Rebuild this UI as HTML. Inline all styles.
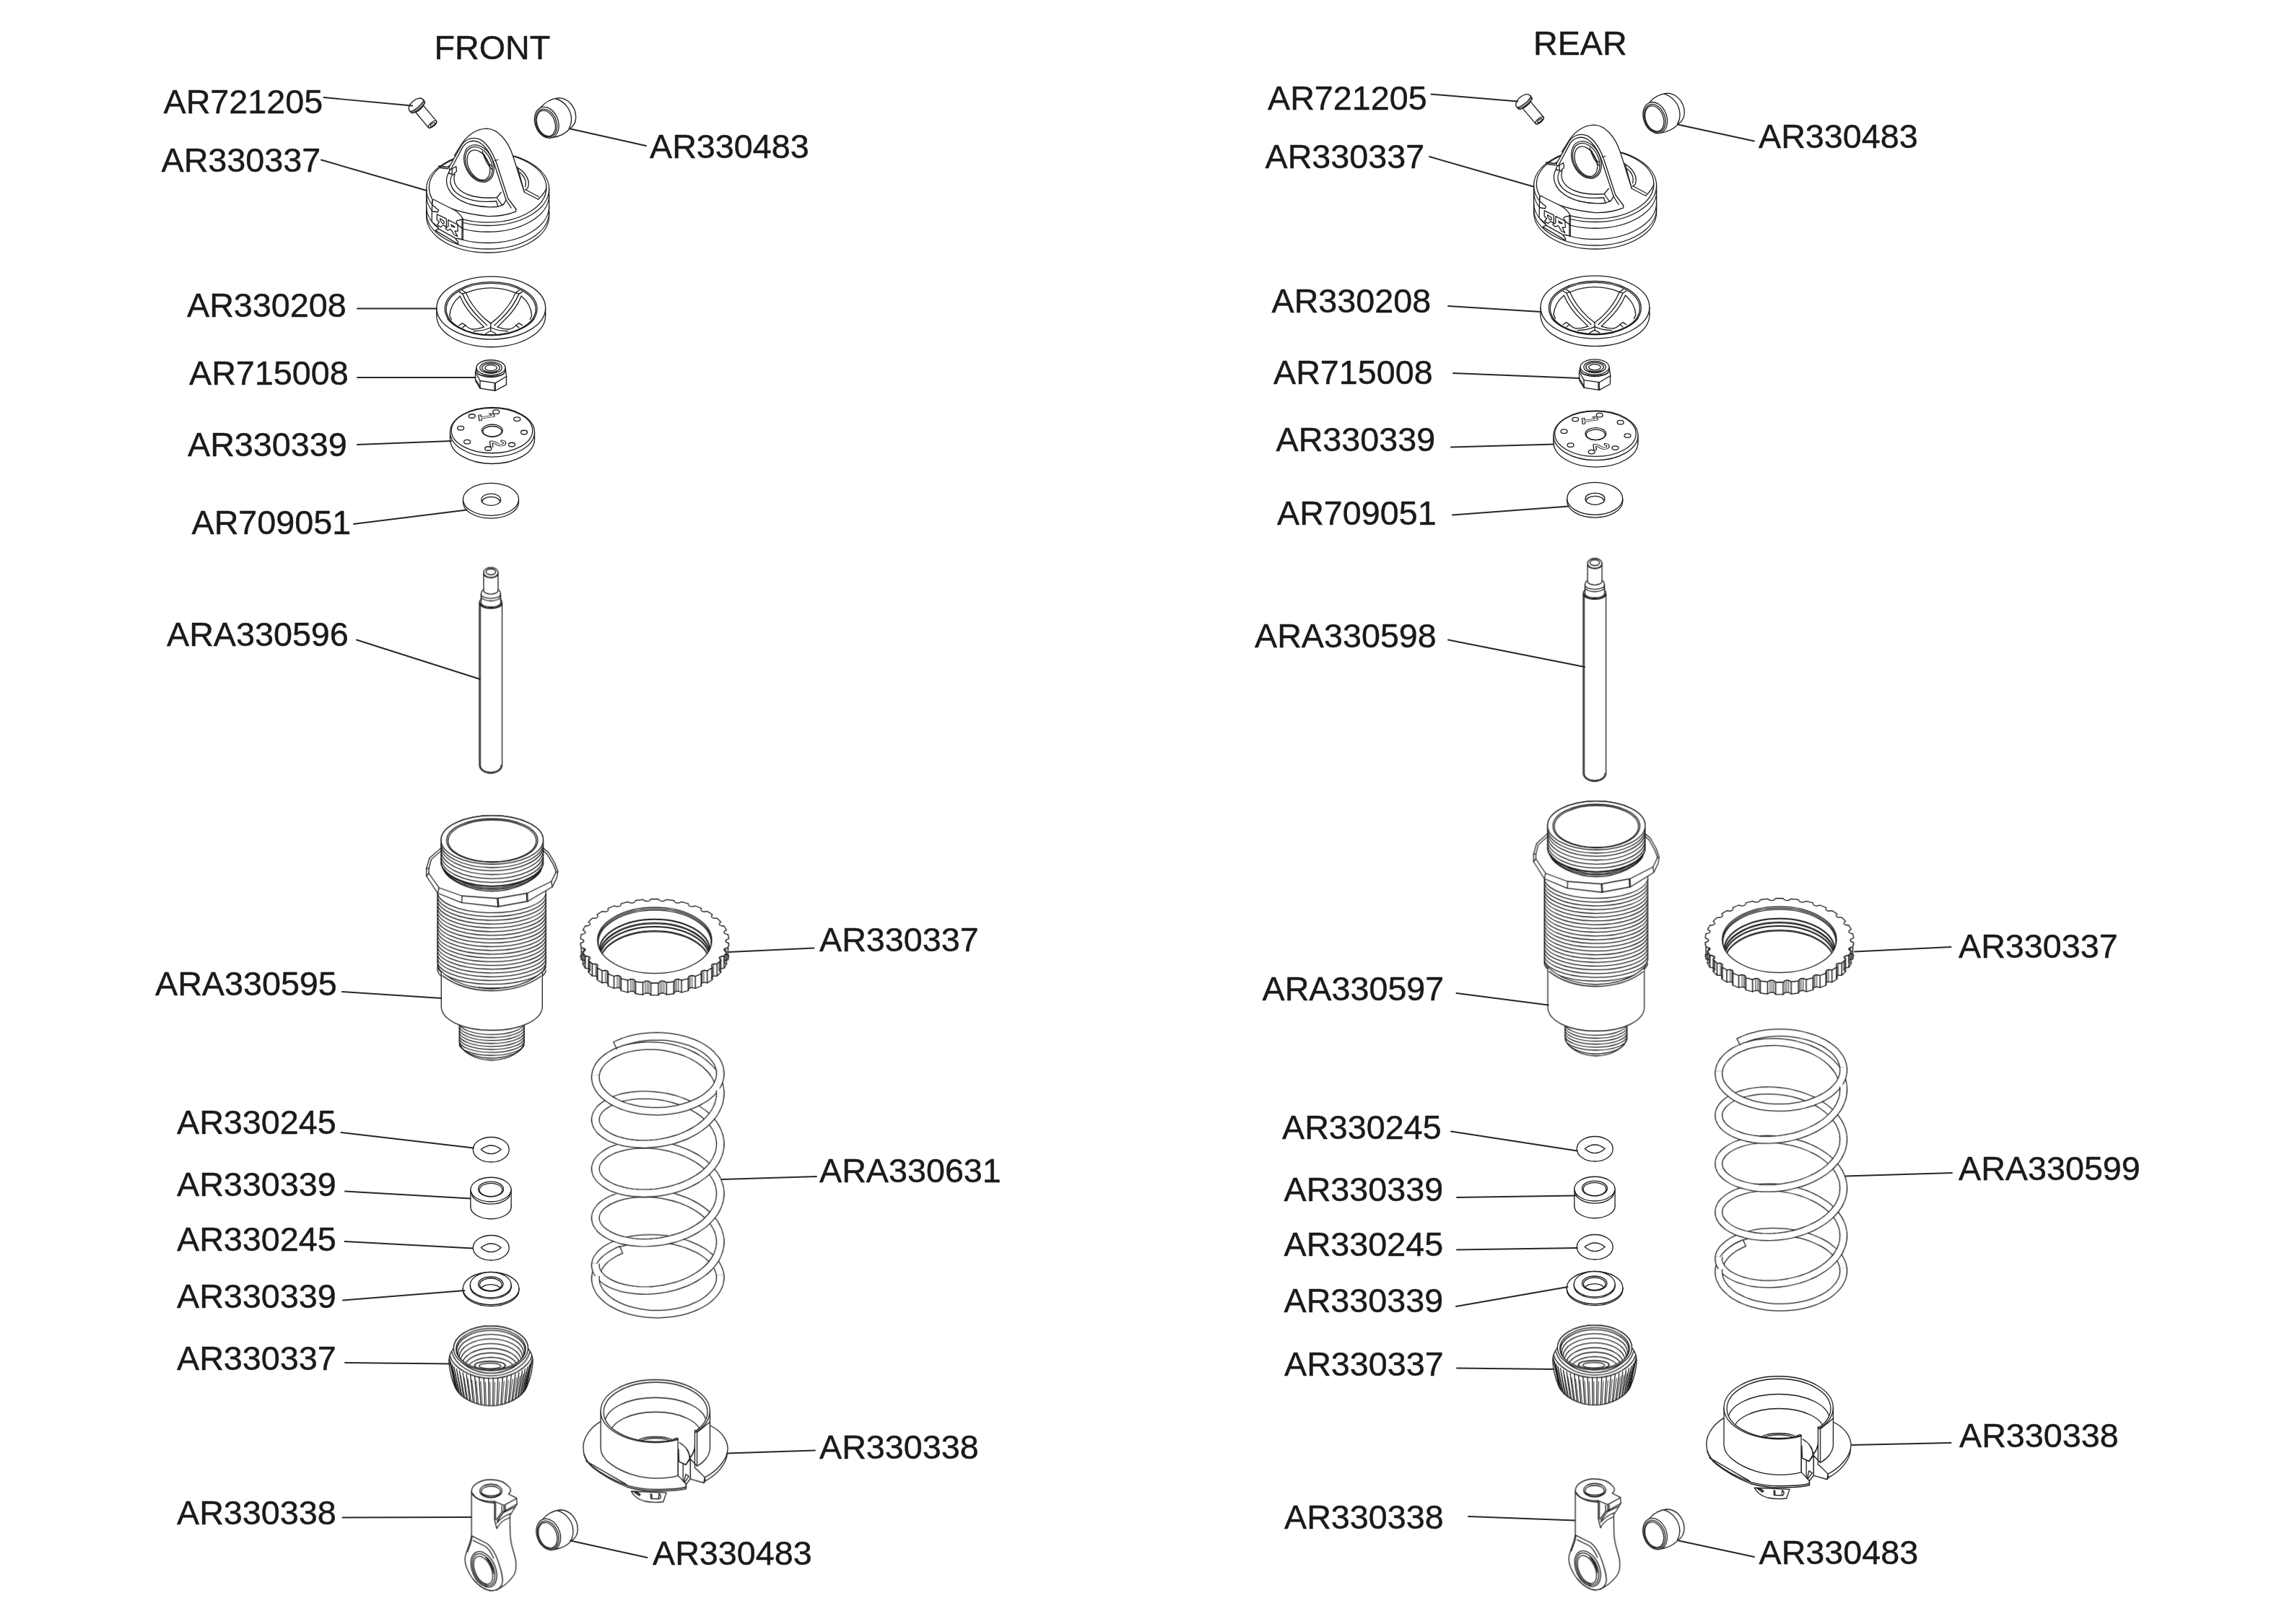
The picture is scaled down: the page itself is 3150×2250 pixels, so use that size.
<!DOCTYPE html>
<html><head><meta charset="utf-8"><title>Shock exploded view</title>
<style>
html,body{margin:0;padding:0;background:#fff;}
body{width:3150px;height:2250px;overflow:hidden;position:relative;}
svg{position:absolute;left:0;top:0;display:block;}
text{font-family:"Liberation Sans",sans-serif;font-size:46.7px;fill:#1a1a1a;stroke:#1a1a1a;stroke-width:0.45px;}
</style></head><body>
<svg xmlns="http://www.w3.org/2000/svg" width="3150" height="2250" viewBox="0 0 3150 2250" fill="none" stroke="#1c1c1c" stroke-width="1.3" stroke-linecap="round" stroke-linejoin="round">
<g id="parts" opacity="0.999">
<g transform="translate(540,180) scale(0.125)" stroke-width="10.4"><path fill="#fff" d="M405,656 L405,956 A680,404 0 0 0 1765,956 L1765,656 A680,404 0 0 0 405,656 Z"/>
<ellipse cx="1085" cy="640" rx="650" ry="385"/>
<path d="M405,656 A680,404 0 0 0 1765,656"/>
<path d="M405,726 A680,404 0 0 0 1765,726"/>
<path d="M405,848 A680,404 0 0 0 1765,848"/>
<path d="M405,916 A680,404 0 0 0 1765,916"/>
<path d="M480,775 C600,850 800,930 1085,957 C1200,960 1320,935 1395,905"/>
<path fill="#fff" d="M1415,410 L1490,690 L1645,770 C1700,720 1735,660 1733,640"/>
<path d="M1500,660 L1650,740"/>
<path d="M1425,425 C1500,470 1560,560 1530,640 L1505,665"/>
<path d="M1440,470 C1490,510 1520,570 1500,630"/>
<path fill="#fff" d="M655,415 L800,150 C860,60 960,-15 1075,-15 C1200,-10 1310,120 1365,290 L1490,690 L1400,880 L1395,905 L1340,870 L1085,900 L700,500 Z" stroke="none"/>
<path d="M715,285 L800,150 C860,60 960,-15 1075,-15 C1200,-10 1310,120 1365,290 L1490,690"/>
<path d="M655,415 L800,160 C850,100 920,75 1000,105 C1080,150 1150,260 1200,420 L1310,760 L1400,880 L1395,905"/>
<path d="M675,440 L810,185 C850,130 920,105 985,135 C1060,175 1125,280 1165,400 L1290,780 L1345,865"/>
<path d="M1165,340 L1200,330"/>
<g transform="translate(988,372) rotate(64)">
<ellipse cx="0" cy="0" rx="218" ry="152"/>
<ellipse cx="4" cy="4" rx="200" ry="136"/>
<ellipse cx="14" cy="12" rx="176" ry="112"/>
</g>
<path d="M1025,235 C1050,330 1090,400 1135,440"/>
<path d="M1045,270 C1065,325 1095,375 1125,400"/>
<path d="M655,470 C610,540 620,640 700,720 C800,820 1000,870 1200,850 L1260,825"/>
<path d="M690,500 C655,560 670,640 740,700 C830,775 1000,810 1180,790"/>
<path d="M720,490 C700,560 720,620 780,670 C860,735 1010,765 1185,750 L1235,690"/>
<path d="M1185,750 L1245,835 L1260,825 L1290,775"/>
<path d="M1200,850 L1180,790"/>
<path d="M540,400 L640,412 L660,395"/>
<path d="M560,420 L645,430"/>
<path d="M650,410 L665,440 L690,430 L735,405 L740,460 L715,480 L700,500"/>
<path d="M665,440 L650,480 L690,490 L690,430"/>
<path fill="#fff" d="M470,780 L490,772 L520,790 L720,890 C770,925 800,960 810,990 L810,1215 L745,1202 L730,1210 L755,1240 L757,1265 L505,1115 L540,1097 L537,1080 L465,1015 L467,900 Z"/>
<path d="M470,780 L470,830 L540,890 L530,912 L467,900"/>
<path d="M540,1097 L735,1205"/>
<path d="M810,990 L745,1005 L735,1020 L755,1055 L810,1095"/>
<path d="M800,985 L800,1212"/>
<path d="M522,935 L627,985 L627,1075 L607,1065 L607,1060 L590,1055 L565,1077 L525,1052 L547,1022 L522,996 Z"/>
<path d="M557,982 L600,1010 L600,1035 L585,1040 L557,1000 Z"/>
<path d="M647,997 L750,1050 L755,1120 L720,1122 L750,1180 L710,1160 L685,1115 L670,1100 L665,1105 L640,1112 L615,1090 L647,1070 Z"/>
<path d="M680,1050 L720,1075 L715,1080 L685,1070 Z"/>
</g>
<g transform="translate(540,110) scale(0.125)" stroke-width="10.4"><g transform="translate(296,288) rotate(50)">
<path fill="#fff" d="M0,-98 C-36,-98 -60,-60 -60,0 C-60,60 -36,98 0,98 L26,96 A26,96 0 0 0 26,-96 Z"/>
<path d="M0,-98 A26,98 0 0 1 0,98"/>
<path d="M26,-96 A26,96 0 0 1 26,96"/>
<path d="M12,-97 A26,97 0 0 1 12,97" stroke-width="6"/>
<path fill="#fff" d="M46,-57 L274,-57 A22,57 0 0 1 274,57 L46,57 A14,57 0 0 0 46,-57 Z"/>
<ellipse cx="274" cy="0" rx="22" ry="57"/>
<ellipse cx="278" cy="0" rx="12" ry="32"/>
</g>
</g>
<g transform="translate(540,110) scale(0.125)" stroke-width="10.4"><path fill="#fff" d="M1672,312 C1720,250 1790,215 1870,205 C1970,205 2062,300 2062,420 C2062,480 2035,520 1992,548 C1950,600 1880,632 1800,645 Z"/>
<path d="M1838,214 C1930,240 2010,330 2012,440 C2012,490 2000,520 1985,545"/>
<g transform="translate(1738,478) rotate(70)">
<ellipse fill="#fff" cx="0" cy="0" rx="178" ry="128"/>
<ellipse cx="4" cy="6" rx="160" ry="112"/>
<ellipse cx="6" cy="10" rx="146" ry="98"/>
</g>
</g>
<g transform="translate(540,360) scale(0.125)" stroke-width="10.4"><ellipse fill="#fff" cx="1122" cy="618" rx="603" ry="348"/><path fill="#fff" stroke="none" d="M519,533 L519,618 L1725,618 L1725,533 Z"/><path d="M519,533 L519,618 M1725,533 L1725,618"/><ellipse fill="#fff" cx="1122" cy="533" rx="603" ry="348"/>
<ellipse cx="1121" cy="542" rx="511" ry="297"/>
<ellipse cx="1121" cy="546" rx="496" ry="287"/>
<path d="M640,655 C700,740 880,828 1121,832 C1360,828 1540,740 1600,655"/>
<path d="M848,365 C1020,292 1216,292 1393,365"/>
<path d="M778,402 C708,460 668,535 663,620 L683,660"/>
<path d="M1458,402 C1528,460 1568,535 1573,620 L1553,660"/>
<path d="M778,402 C810,480 880,590 978,680 L1043,745"/>
<path d="M805,377 C840,460 905,560 998,650 L1078,727"/>
<path d="M843,365 C880,455 950,555 1038,640 L1118,705"/>
<path d="M1458,402 C1426,480 1356,590 1258,680 L1193,745"/>
<path d="M1431,377 C1396,460 1331,560 1238,650 L1158,727"/>
<path d="M1393,365 C1356,455 1286,555 1198,640 L1118,705"/>
<path d="M768,355 L805,377 L843,365 L803,338 M1468,355 L1431,377 L1393,365 L1433,338"/>
<path d="M1118,705 L1118,790"/>
<path d="M1043,745 C1000,762 960,768 913,770 M1193,745 C1236,762 1276,768 1323,770"/>
<path d="M1118,750 C1070,775 1000,790 928,790 M1118,750 C1166,775 1236,790 1308,790"/>
<path d="M1118,790 C1090,800 1075,810 1060,820 M1118,790 C1146,800 1161,810 1176,820"/>
<path d="M768,727 L803,702 L838,725 C860,748 885,765 913,770 M838,725 L805,752"/>
<path d="M1468,727 L1433,702 L1398,725 C1376,748 1351,765 1323,770 M1398,725 L1431,752"/>
</g>
<g transform="translate(540,360) scale(0.125)" stroke-width="10.4"><path fill="#fff" d="M948,1245 L948,1340 L1000,1425 L1170,1450 L1290,1385 L1293,1290 L1280,1200 L960,1200 Z"/>
<path d="M948,1245 L1000,1340 L1170,1365 L1293,1292"/>
<path d="M1000,1340 L1000,1425 M1170,1365 L1170,1450"/>
<path d="M958,1335 L1005,1418 M1160,1368 L1160,1446"/>
<path fill="#fff" d="M960,1195 L962,1240 C1000,1320 1240,1320 1278,1240 L1280,1195 Z"/>
<path d="M975,1262 C1020,1300 1220,1300 1265,1262"/>
<ellipse fill="#fff" cx="1120" cy="1195" rx="160" ry="85"/>
<ellipse cx="1120" cy="1195" rx="122" ry="64"/>
<ellipse cx="1120" cy="1196" rx="98" ry="50"/>
<ellipse cx="1120" cy="1197" rx="66" ry="33"/>
<path d="M1050,1240 C1090,1262 1150,1262 1190,1240"/>
</g>
<g transform="translate(540,540) scale(0.125)" stroke-width="10.4"><ellipse fill="#fff" cx="1136" cy="545" rx="468" ry="275"/><path fill="#fff" stroke="none" d="M668,470 L668,545 L1604,545 L1604,470 Z"/><path d="M668,470 L668,545 M1604,470 L1604,545"/><ellipse fill="#fff" cx="1136" cy="470" rx="468" ry="275"/>
<ellipse cx="1132" cy="452" rx="450" ry="250"/>
<ellipse cx="1135" cy="452" rx="115" ry="68"/>
<ellipse cx="1135" cy="462" rx="104" ry="58"/>
<g>
<ellipse cx="1178" cy="245" rx="36" ry="22"/><ellipse cx="910" cy="292" rx="36" ry="22"/>
<ellipse cx="1410" cy="325" rx="36" ry="22"/><ellipse cx="785" cy="425" rx="36" ry="22"/>
<ellipse cx="1488" cy="472" rx="36" ry="22"/><ellipse cx="857" cy="577" rx="36" ry="22"/>
<ellipse cx="1352" cy="608" rx="36" ry="22"/><ellipse cx="1090" cy="652" rx="36" ry="22"/>
</g>
<g font-family="Liberation Sans, sans-serif" font-size="250" text-anchor="middle" stroke-width="9" fill="none">
<text style="font-size:250px;font-weight:bold;fill:none;stroke:#1c1c1c;stroke-width:11px" transform="translate(1075,298) rotate(-8) scale(1,0.56) rotate(90)" x="0" y="88">1</text>
<text style="font-size:250px;font-weight:bold;fill:none;stroke:#1c1c1c;stroke-width:11px" transform="translate(1200,595) rotate(-5) scale(1,0.56) rotate(90)" x="0" y="88">2</text>
</g>
</g>
<g transform="translate(540,540) scale(0.125)" stroke-width="10.4"><ellipse fill="#fff" cx="1120" cy="1245" rx="308" ry="180"/><path fill="#fff" stroke="none" d="M812,1215 L812,1245 L1428,1245 L1428,1215 Z"/><path d="M812,1215 L812,1245 M1428,1215 L1428,1245"/><ellipse fill="#fff" cx="1120" cy="1215" rx="308" ry="180"/>
<ellipse cx="1122" cy="1218" rx="108" ry="65"/>
<path d="M1022,1243 A100,56 0 0 1 1222,1243"/>
</g>
<g transform="translate(540,770) scale(0.125)" stroke-width="10.4"><path fill="#fff" d="M992,525 C992,500 1005,485 1012,478 L1228,478 C1235,485 1245,500 1245,525 L1245,2320 A126.5,90 0 0 1 992,2320 Z"/>
<path d="M1003,540 L1003,2320 A115.5,82 0 0 0 1234,2320 "/>
<path d="M1000,528 A118,52 0 0 0 1240,528" stroke-width="18"/>
<path fill="#fff" d="M1012,425 L1012,520 A108,48 0 0 0 1228,520 L1228,425 C1225,395 1210,380 1200,375 L1040,375 C1030,380 1015,395 1012,425 Z"/>
<path d="M1012,425 A108,48 0 0 0 1228,425 M1012,452 A108,48 0 0 0 1228,452"/>
<path fill="#fff" d="M1040,185 L1040,385 A80,40 0 0 0 1200,385 L1200,185 Z"/>
<ellipse fill="#fff" cx="1120" cy="185" rx="80" ry="55"/>
<path d="M1040,200 A80,45 0 0 0 1200,200"/>
<ellipse cx="1120" cy="178" rx="54" ry="32"/>
</g>
<g transform="translate(540,1110) scale(0.125)" stroke-width="10.4"><path fill="#fff" stroke="none" d="M530,1000 L530,1800 C535,1850 560,1880 570,1890 L1690,1895 C1700,1880 1725,1850 1730,1800 L1730,1000 Z"/>
<path d="M530,1000 L530,1800 C535,1850 560,1880 570,1890 M1690,1895 C1700,1880 1725,1850 1730,1800 L1730,1000"/>
<path d="M530,988 A600,232 0 0 0 1730,1022"/>
<path d="M530,1031 A600,231 0 0 0 1730,1065"/>
<path d="M530,1073 A600,230 0 0 0 1730,1107"/>
<path d="M530,1116 A600,229 0 0 0 1730,1150"/>
<path d="M530,1159 A600,228 0 0 0 1730,1193"/>
<path d="M530,1202 A600,227 0 0 0 1730,1236"/>
<path d="M530,1244 A600,226 0 0 0 1730,1278"/>
<path d="M530,1287 A600,225 0 0 0 1730,1321"/>
<path d="M530,1330 A600,224 0 0 0 1730,1364"/>
<path d="M530,1372 A600,223 0 0 0 1730,1406"/>
<path d="M530,1415 A600,222 0 0 0 1730,1449"/>
<path d="M530,1458 A600,221 0 0 0 1730,1492"/>
<path d="M530,1500 A600,220 0 0 0 1730,1534"/>
<path d="M530,1543 A600,219 0 0 0 1730,1577"/>
<path d="M530,1586 A600,218 0 0 0 1730,1620"/>
<path d="M530,1628 A600,217 0 0 0 1730,1662"/>
<path d="M530,1671 A600,216 0 0 0 1730,1705"/>
<path d="M530,1714 A600,215 0 0 0 1730,1748"/>
<path d="M530,1757 A600,214 0 0 0 1730,1791"/>
<path d="M530,1799 A600,213 0 0 0 1730,1833"/>
<path d="M530,1842 A600,212 0 0 0 1730,1876"/>
<path fill="#fff" d="M770,2470 L770,2670 C790,2780 950,2872 1130,2872 C1310,2872 1470,2780 1490,2670 L1490,2470 Z"/>
<path d="M770,2454 A360,128 0 0 0 1490,2464"/>
<path d="M770,2487 A360,128 0 0 0 1490,2497"/>
<path d="M770,2520 A360,128 0 0 0 1490,2530"/>
<path d="M770,2553 A360,128 0 0 0 1490,2563"/>
<path d="M770,2586 A360,128 0 0 0 1490,2596"/>
<path d="M770,2619 A360,128 0 0 0 1490,2629"/>
<path d="M770,2652 A360,128 0 0 0 1490,2662"/>
<path d="M770,2685 A360,128 0 0 0 1490,2695"/>
<path d="M800,2740 C860,2810 1000,2850 1130,2850 C1260,2850 1400,2810 1460,2745"/>
<path fill="#fff" d="M570,1885 C700,2010 900,2075 1130,2080 C1360,2075 1560,2010 1690,1890 L1690,2280 C1685,2420 1460,2540 1130,2540 C800,2540 575,2420 570,2280 Z"/>
<path d="M585,1935 C720,2040 900,2098 1130,2102 C1360,2098 1540,2040 1675,1940"/>
<path fill="#fff" d="M560,525 L440,630 L405,745 L405,830 L530,1020 L795,1125 L1195,1170 L1530,1110 L1800,950 L1850,850 L1862,780 L1830,690 L1760,570 L1705,525 Z"/>
<path d="M575,545 L460,645 L432,745 L432,800 L545,960 L800,1050 L1190,1078 L1525,1020 L1790,890 L1840,790 L1838,770 L1810,700 L1745,590 L1700,550"/>
<path d="M545,960 L530,1020 M800,1050 L797,1125 M1190,1078 L1197,1170 M1525,1020 L1528,1110 M1790,890 L1800,950 M432,745 L405,745 M432,800 L405,830 M1840,790 L1862,780"/>
<path d="M1200,1080 L1207,1168 M1515,1022 L1518,1110"/>
<path d="M600,770 C640,860 860,995 1134,998 C1410,995 1630,860 1675,770"/>
<path d="M615,790 C680,880 880,975 1134,978 C1390,975 1590,880 1655,790"/>
<path fill="#fff" d="M568,430 L568,700 C600,800 800,960 1134,965 C1470,960 1670,800 1700,700 L1700,430 A566,270 0 0 0 568,430 Z"/>
<path d="M568,462 A566,270 0 0 0 1700,470"/>
<path d="M568,497 A566,270 0 0 0 1700,505"/>
<path d="M568,540 A566,270 0 0 0 1700,548"/>
<path d="M568,585 A566,270 0 0 0 1700,593"/>
<path d="M568,627 A566,270 0 0 0 1700,635"/>
<path d="M568,672 A566,270 0 0 0 1700,680"/>
<path d="M590,745 C660,850 860,940 1134,943 C1410,940 1610,850 1680,745" stroke-width="16"/>
<ellipse fill="#fff" cx="1134" cy="430" rx="566" ry="270"/>
<ellipse cx="1134" cy="436" rx="505" ry="242"/>
<ellipse cx="1134" cy="440" rx="488" ry="232"/>
</g>
<g transform="translate(770,1215) scale(0.125)" stroke-width="10.4"><path fill="#fff" d="M1881,845 L1882,849 L1884,853 L1889,857 L1895,861 L1903,865 L1917,869 L1916,873 L1916,877 L1915,881 L1915,886 L1914,890 L1913,894 L1913,898 L1912,902 L1911,906 L1910,910 L1909,914 L1908,918 L1893,920 L1883,924 L1876,927 L1870,930 L1866,934 L1864,937 L1863,941 L1864,945 L1867,950 L1871,954 L1878,959 L1890,965 L1888,969 L1886,973 L1884,977 L1882,981 L1880,985 L1878,989 L1875,993 L1873,996 L1871,1000 L1868,1004 L1866,1008 L1863,1012 L1847,1012 L1837,1014 L1829,1017 L1822,1019 L1817,1022 L1813,1026 L1811,1029 L1811,1034 L1812,1038 L1814,1043 L1819,1049 L1828,1056 L1825,1060 L1822,1063 L1818,1067 L1815,1070 L1811,1074 L1808,1078 L1804,1081 L1800,1084 L1797,1088 L1793,1091 L1789,1095 L1785,1098 L1769,1097 L1758,1098 L1749,1099 L1742,1101 L1736,1103 L1731,1106 L1728,1109 L1726,1113 L1725,1118 L1726,1123 L1728,1129 L1735,1138 L1730,1141 L1725,1144 L1721,1147 L1716,1150 L1711,1153 L1707,1156 L1702,1159 L1697,1162 L1692,1165 L1687,1168 L1682,1171 L1677,1174 L1662,1171 L1651,1170 L1642,1170 L1633,1171 L1627,1173 L1621,1175 L1616,1178 L1613,1182 L1611,1186 L1609,1191 L1609,1198 L1613,1206 L1607,1209 L1602,1211 L1596,1214 L1590,1216 L1585,1219 L1579,1221 L1573,1224 L1567,1226 L1561,1228 L1555,1231 L1549,1233 L1543,1235 L1529,1230 L1519,1228 L1510,1227 L1502,1227 L1494,1228 L1488,1230 L1482,1232 L1478,1235 L1474,1239 L1471,1244 L1468,1250 L1469,1259 L1462,1261 L1456,1263 L1449,1265 L1443,1266 L1436,1268 L1430,1270 L1423,1271 L1417,1273 L1410,1275 L1403,1276 L1397,1278 L1390,1279 L1378,1273 L1369,1270 L1360,1268 L1352,1267 L1345,1267 L1338,1267 L1332,1269 L1326,1272 L1320,1275 L1316,1280 L1311,1285 L1308,1294 L1301,1295 L1294,1296 L1287,1297 L1280,1298 L1273,1299 L1266,1300 L1259,1301 L1252,1301 L1245,1302 L1238,1303 L1231,1304 L1224,1304 L1215,1297 L1206,1293 L1199,1290 L1191,1288 L1184,1287 L1177,1287 L1170,1288 L1164,1289 L1157,1292 L1151,1296 L1144,1301 L1138,1309 L1131,1310 L1124,1310 L1117,1310 L1109,1310 L1102,1310 L1095,1310 L1088,1310 L1081,1310 L1073,1310 L1066,1310 L1059,1310 L1052,1309 L1046,1301 L1039,1296 L1033,1292 L1026,1289 L1020,1288 L1013,1287 L1006,1287 L999,1288 L991,1290 L984,1293 L975,1297 L966,1304 L959,1304 L952,1303 L945,1302 L938,1301 L931,1301 L924,1300 L917,1299 L910,1298 L903,1297 L896,1296 L889,1295 L882,1294 L879,1285 L874,1280 L870,1275 L864,1272 L858,1269 L852,1267 L845,1267 L838,1267 L830,1268 L821,1270 L812,1273 L800,1279 L793,1278 L787,1276 L780,1275 L773,1273 L767,1271 L760,1270 L754,1268 L747,1266 L741,1265 L734,1263 L728,1261 L721,1259 L722,1250 L719,1244 L716,1239 L712,1235 L708,1232 L702,1230 L696,1228 L688,1227 L680,1227 L671,1228 L661,1230 L647,1235 L641,1233 L635,1231 L629,1228 L623,1226 L617,1224 L611,1221 L605,1219 L600,1216 L594,1214 L588,1211 L583,1209 L577,1206 L581,1198 L581,1191 L579,1186 L577,1182 L574,1178 L569,1175 L563,1173 L557,1171 L548,1170 L539,1170 L528,1171 L513,1174 L508,1171 L503,1168 L498,1165 L493,1162 L488,1159 L483,1156 L479,1153 L474,1150 L469,1147 L465,1144 L460,1141 L455,1138 L462,1129 L464,1123 L465,1118 L464,1113 L462,1109 L459,1106 L454,1103 L448,1101 L441,1099 L432,1098 L421,1097 L405,1098 L401,1095 L397,1091 L393,1088 L390,1084 L386,1081 L382,1078 L379,1074 L375,1070 L372,1067 L368,1063 L365,1060 L362,1056 L371,1049 L376,1043 L378,1038 L379,1034 L379,1029 L377,1026 L373,1022 L368,1019 L361,1017 L353,1014 L343,1012 L327,1012 L324,1008 L322,1004 L319,1000 L317,996 L315,993 L312,989 L310,985 L308,981 L306,977 L304,973 L302,969 L300,965 L312,959 L319,954 L323,950 L326,945 L327,941 L326,937 L324,934 L320,930 L314,927 L307,924 L297,920 L282,918 L281,914 L280,910 L279,906 L278,902 L277,898 L277,894 L276,890 L275,886 L275,881 L274,877 L274,873 L273,869 L287,865 L295,861 L301,857 L306,853 L308,849 L309,845 L309,710 L308,714 L306,718 L301,722 L295,726 L287,730 L273,734 L274,738 L274,742 L275,746 L275,751 L276,755 L277,759 L277,763 L278,767 L279,771 L280,775 L281,779 L282,783 L297,785 L307,789 L314,792 L320,795 L324,799 L326,802 L327,806 L326,810 L323,815 L319,819 L312,824 L300,830 L302,834 L304,838 L306,842 L308,846 L310,850 L312,854 L315,858 L317,861 L319,865 L322,869 L324,873 L327,877 L343,877 L353,879 L361,882 L368,884 L373,887 L377,891 L379,894 L379,899 L378,903 L376,908 L371,914 L362,921 L365,925 L368,928 L372,932 L375,935 L379,939 L382,942 L386,946 L390,949 L393,953 L397,956 L401,960 L405,963 L421,962 L432,963 L441,964 L448,966 L454,968 L459,971 L462,974 L464,978 L465,983 L464,988 L462,994 L455,1003 L460,1006 L465,1009 L469,1012 L474,1015 L479,1018 L483,1021 L488,1024 L493,1027 L498,1030 L503,1033 L508,1036 L513,1039 L528,1036 L539,1035 L548,1035 L557,1036 L563,1038 L569,1040 L574,1043 L577,1047 L579,1051 L581,1056 L581,1063 L577,1071 L583,1074 L588,1076 L594,1079 L600,1081 L605,1084 L611,1086 L617,1089 L623,1091 L629,1093 L635,1096 L641,1098 L647,1100 L661,1095 L671,1093 L680,1092 L688,1092 L696,1093 L702,1095 L708,1097 L712,1100 L716,1104 L719,1109 L722,1115 L721,1124 L728,1126 L734,1128 L741,1130 L747,1131 L754,1133 L760,1135 L767,1136 L773,1138 L780,1140 L787,1141 L793,1143 L800,1144 L812,1138 L821,1135 L830,1133 L838,1132 L845,1132 L852,1132 L858,1134 L864,1137 L870,1140 L874,1145 L879,1150 L882,1159 L889,1160 L896,1161 L903,1162 L910,1163 L917,1164 L924,1165 L931,1166 L938,1166 L945,1167 L952,1168 L959,1169 L966,1169 L975,1162 L984,1158 L991,1155 L999,1153 L1006,1152 L1013,1152 L1020,1153 L1026,1154 L1033,1157 L1039,1161 L1046,1166 L1052,1174 L1059,1175 L1066,1175 L1073,1175 L1081,1175 L1088,1175 L1095,1175 L1102,1175 L1109,1175 L1117,1175 L1124,1175 L1131,1175 L1138,1174 L1144,1166 L1151,1161 L1157,1157 L1164,1154 L1170,1153 L1177,1152 L1184,1152 L1191,1153 L1199,1155 L1206,1158 L1215,1162 L1224,1169 L1231,1169 L1238,1168 L1245,1167 L1252,1166 L1259,1166 L1266,1165 L1273,1164 L1280,1163 L1287,1162 L1294,1161 L1301,1160 L1308,1159 L1311,1150 L1316,1145 L1320,1140 L1326,1137 L1332,1134 L1338,1132 L1345,1132 L1352,1132 L1360,1133 L1369,1135 L1378,1138 L1390,1144 L1397,1143 L1403,1141 L1410,1140 L1417,1138 L1423,1136 L1430,1135 L1436,1133 L1443,1131 L1449,1130 L1456,1128 L1462,1126 L1469,1124 L1468,1115 L1471,1109 L1474,1104 L1478,1100 L1482,1097 L1488,1095 L1494,1093 L1502,1092 L1510,1092 L1519,1093 L1529,1095 L1543,1100 L1549,1098 L1555,1096 L1561,1093 L1567,1091 L1573,1089 L1579,1086 L1585,1084 L1590,1081 L1596,1079 L1602,1076 L1607,1074 L1613,1071 L1609,1063 L1609,1056 L1611,1051 L1613,1047 L1616,1043 L1621,1040 L1627,1038 L1633,1036 L1642,1035 L1651,1035 L1662,1036 L1677,1039 L1682,1036 L1687,1033 L1692,1030 L1697,1027 L1702,1024 L1707,1021 L1711,1018 L1716,1015 L1721,1012 L1725,1009 L1730,1006 L1735,1003 L1728,994 L1726,988 L1725,983 L1726,978 L1728,974 L1731,971 L1736,968 L1742,966 L1749,964 L1758,963 L1769,962 L1785,963 L1789,960 L1793,956 L1797,953 L1800,949 L1804,946 L1808,942 L1811,939 L1815,935 L1818,932 L1822,928 L1825,925 L1828,921 L1819,914 L1814,908 L1812,903 L1811,899 L1811,894 L1813,891 L1817,887 L1822,884 L1829,882 L1837,879 L1847,877 L1863,877 L1866,873 L1868,869 L1871,865 L1873,861 L1875,858 L1878,854 L1880,850 L1882,846 L1884,842 L1886,838 L1888,834 L1890,830 L1878,824 L1871,819 L1867,815 L1864,810 L1863,806 L1864,802 L1866,799 L1870,795 L1876,792 L1883,789 L1893,785 L1908,783 L1909,779 L1910,775 L1911,771 L1912,767 L1913,763 L1913,759 L1914,755 L1915,751 L1915,746 L1916,742 L1916,738 L1917,734 L1903,730 L1895,726 L1889,722 L1884,718 L1882,714 L1881,710 Z"/>
<path d="M1908,782 L1908,917" stroke-width="12"/>
<path d="M1875,792 L1875,927" stroke-width="7"/>
<path d="M1864,802 L1864,937" stroke-width="7"/>
<path d="M1867,814 L1867,949" stroke-width="7"/>
<path d="M1890,831 L1890,966" stroke-width="12"/>
<path d="M1864,876 L1864,1011" stroke-width="12"/>
<path d="M1828,882 L1828,1017" stroke-width="7"/>
<path d="M1813,891 L1813,1026" stroke-width="7"/>
<path d="M1811,903 L1811,1038" stroke-width="7"/>
<path d="M1828,922 L1828,1057" stroke-width="12"/>
<path d="M1786,962 L1786,1097" stroke-width="12"/>
<path d="M1748,964 L1748,1099" stroke-width="7"/>
<path d="M1731,971 L1731,1106" stroke-width="7"/>
<path d="M1725,982 L1725,1117" stroke-width="7"/>
<path d="M1734,1003 L1734,1138" stroke-width="12"/>
<path d="M1678,1038 L1678,1173" stroke-width="12"/>
<path d="M1640,1035 L1640,1170" stroke-width="7"/>
<path d="M1621,1040 L1621,1175" stroke-width="7"/>
<path d="M1611,1051 L1611,1186" stroke-width="7"/>
<path d="M1612,1072 L1612,1207" stroke-width="12"/>
<path d="M1545,1099 L1545,1234" stroke-width="12"/>
<path d="M1509,1092 L1509,1227" stroke-width="7"/>
<path d="M1488,1095 L1488,1230" stroke-width="7"/>
<path d="M1474,1104 L1474,1239" stroke-width="7"/>
<path d="M1467,1125 L1467,1260" stroke-width="12"/>
<path d="M1392,1144 L1392,1279" stroke-width="12"/>
<path d="M1359,1133 L1359,1268" stroke-width="7"/>
<path d="M1338,1132 L1338,1267" stroke-width="7"/>
<path d="M1321,1140 L1321,1275" stroke-width="7"/>
<path d="M1306,1159 L1306,1294" stroke-width="12"/>
<path d="M1225,1169 L1225,1304" stroke-width="12"/>
<path d="M1198,1154 L1198,1289" stroke-width="7"/>
<path d="M1177,1152 L1177,1287" stroke-width="7"/>
<path d="M1158,1157 L1158,1292" stroke-width="7"/>
<path d="M1136,1174 L1136,1309" stroke-width="12"/>
<path d="M1054,1174 L1054,1309" stroke-width="12"/>
<path d="M1032,1157 L1032,1292" stroke-width="7"/>
<path d="M1013,1152 L1013,1287" stroke-width="7"/>
<path d="M992,1154 L992,1289" stroke-width="7"/>
<path d="M965,1169 L965,1304" stroke-width="12"/>
<path d="M884,1159 L884,1294" stroke-width="12"/>
<path d="M869,1140 L869,1275" stroke-width="7"/>
<path d="M852,1132 L852,1267" stroke-width="7"/>
<path d="M831,1133 L831,1268" stroke-width="7"/>
<path d="M798,1144 L798,1279" stroke-width="12"/>
<path d="M723,1125 L723,1260" stroke-width="12"/>
<path d="M716,1104 L716,1239" stroke-width="7"/>
<path d="M702,1095 L702,1230" stroke-width="7"/>
<path d="M681,1092 L681,1227" stroke-width="7"/>
<path d="M645,1099 L645,1234" stroke-width="12"/>
<path d="M578,1072 L578,1207" stroke-width="12"/>
<path d="M579,1051 L579,1186" stroke-width="7"/>
<path d="M569,1040 L569,1175" stroke-width="7"/>
<path d="M550,1035 L550,1170" stroke-width="7"/>
<path d="M512,1038 L512,1173" stroke-width="12"/>
<path d="M456,1003 L456,1138" stroke-width="12"/>
<path d="M465,982 L465,1117" stroke-width="7"/>
<path d="M459,971 L459,1106" stroke-width="7"/>
<path d="M442,964 L442,1099" stroke-width="7"/>
<path d="M404,962 L404,1097" stroke-width="12"/>
<path d="M362,922 L362,1057" stroke-width="12"/>
<path d="M379,903 L379,1038" stroke-width="7"/>
<path d="M377,891 L377,1026" stroke-width="7"/>
<path d="M362,882 L362,1017" stroke-width="7"/>
<path d="M326,876 L326,1011" stroke-width="12"/>
<path d="M300,831 L300,966" stroke-width="12"/>
<path d="M323,814 L323,949" stroke-width="7"/>
<path d="M326,802 L326,937" stroke-width="7"/>
<path d="M315,792 L315,927" stroke-width="7"/>
<path d="M282,782 L282,917" stroke-width="12"/>
<path fill="#fff" d="M1881,710 L1882,714 L1884,718 L1889,722 L1895,726 L1903,730 L1917,734 L1916,738 L1916,742 L1915,746 L1915,751 L1914,755 L1913,759 L1913,763 L1912,767 L1911,771 L1910,775 L1909,779 L1908,783 L1893,785 L1883,789 L1876,792 L1870,795 L1866,799 L1864,802 L1863,806 L1864,810 L1867,815 L1871,819 L1878,824 L1890,830 L1888,834 L1886,838 L1884,842 L1882,846 L1880,850 L1878,854 L1875,858 L1873,861 L1871,865 L1868,869 L1866,873 L1863,877 L1847,877 L1837,879 L1829,882 L1822,884 L1817,887 L1813,891 L1811,894 L1811,899 L1812,903 L1814,908 L1819,914 L1828,921 L1825,925 L1822,928 L1818,932 L1815,935 L1811,939 L1808,942 L1804,946 L1800,949 L1797,953 L1793,956 L1789,960 L1785,963 L1769,962 L1758,963 L1749,964 L1742,966 L1736,968 L1731,971 L1728,974 L1726,978 L1725,983 L1726,988 L1728,994 L1735,1003 L1730,1006 L1725,1009 L1721,1012 L1716,1015 L1711,1018 L1707,1021 L1702,1024 L1697,1027 L1692,1030 L1687,1033 L1682,1036 L1677,1039 L1662,1036 L1651,1035 L1642,1035 L1633,1036 L1627,1038 L1621,1040 L1616,1043 L1613,1047 L1611,1051 L1609,1056 L1609,1063 L1613,1071 L1607,1074 L1602,1076 L1596,1079 L1590,1081 L1585,1084 L1579,1086 L1573,1089 L1567,1091 L1561,1093 L1555,1096 L1549,1098 L1543,1100 L1529,1095 L1519,1093 L1510,1092 L1502,1092 L1494,1093 L1488,1095 L1482,1097 L1478,1100 L1474,1104 L1471,1109 L1468,1115 L1469,1124 L1462,1126 L1456,1128 L1449,1130 L1443,1131 L1436,1133 L1430,1135 L1423,1136 L1417,1138 L1410,1140 L1403,1141 L1397,1143 L1390,1144 L1378,1138 L1369,1135 L1360,1133 L1352,1132 L1345,1132 L1338,1132 L1332,1134 L1326,1137 L1320,1140 L1316,1145 L1311,1150 L1308,1159 L1301,1160 L1294,1161 L1287,1162 L1280,1163 L1273,1164 L1266,1165 L1259,1166 L1252,1166 L1245,1167 L1238,1168 L1231,1169 L1224,1169 L1215,1162 L1206,1158 L1199,1155 L1191,1153 L1184,1152 L1177,1152 L1170,1153 L1164,1154 L1157,1157 L1151,1161 L1144,1166 L1138,1174 L1131,1175 L1124,1175 L1117,1175 L1109,1175 L1102,1175 L1095,1175 L1088,1175 L1081,1175 L1073,1175 L1066,1175 L1059,1175 L1052,1174 L1046,1166 L1039,1161 L1033,1157 L1026,1154 L1020,1153 L1013,1152 L1006,1152 L999,1153 L991,1155 L984,1158 L975,1162 L966,1169 L959,1169 L952,1168 L945,1167 L938,1166 L931,1166 L924,1165 L917,1164 L910,1163 L903,1162 L896,1161 L889,1160 L882,1159 L879,1150 L874,1145 L870,1140 L864,1137 L858,1134 L852,1132 L845,1132 L838,1132 L830,1133 L821,1135 L812,1138 L800,1144 L793,1143 L787,1141 L780,1140 L773,1138 L767,1136 L760,1135 L754,1133 L747,1131 L741,1130 L734,1128 L728,1126 L721,1124 L722,1115 L719,1109 L716,1104 L712,1100 L708,1097 L702,1095 L696,1093 L688,1092 L680,1092 L671,1093 L661,1095 L647,1100 L641,1098 L635,1096 L629,1093 L623,1091 L617,1089 L611,1086 L605,1084 L600,1081 L594,1079 L588,1076 L583,1074 L577,1071 L581,1063 L581,1056 L579,1051 L577,1047 L574,1043 L569,1040 L563,1038 L557,1036 L548,1035 L539,1035 L528,1036 L513,1039 L508,1036 L503,1033 L498,1030 L493,1027 L488,1024 L483,1021 L479,1018 L474,1015 L469,1012 L465,1009 L460,1006 L455,1003 L462,994 L464,988 L465,983 L464,978 L462,974 L459,971 L454,968 L448,966 L441,964 L432,963 L421,962 L405,963 L401,960 L397,956 L393,953 L390,949 L386,946 L382,942 L379,939 L375,935 L372,932 L368,928 L365,925 L362,921 L371,914 L376,908 L378,903 L379,899 L379,894 L377,891 L373,887 L368,884 L361,882 L353,879 L343,877 L327,877 L324,873 L322,869 L319,865 L317,861 L315,858 L312,854 L310,850 L308,846 L306,842 L304,838 L302,834 L300,830 L312,824 L319,819 L323,815 L326,810 L327,806 L326,802 L324,799 L320,795 L314,792 L307,789 L297,785 L282,783 L281,779 L280,775 L279,771 L278,767 L277,763 L277,759 L276,755 L275,751 L275,746 L274,742 L274,738 L273,734 L287,730 L295,726 L301,722 L306,718 L308,714 L309,710 L308,706 L306,702 L301,698 L295,694 L287,690 L273,686 L274,682 L274,678 L275,674 L275,669 L276,665 L277,661 L277,657 L278,653 L279,649 L280,645 L281,641 L282,637 L297,635 L307,631 L314,628 L320,625 L324,621 L326,618 L327,614 L326,610 L323,605 L319,601 L312,596 L300,590 L302,586 L304,582 L306,578 L308,574 L310,570 L312,566 L315,562 L317,559 L319,555 L322,551 L324,547 L327,543 L343,543 L353,541 L361,538 L368,536 L373,533 L377,529 L379,526 L379,521 L378,517 L376,512 L371,506 L362,499 L365,495 L368,492 L372,488 L375,485 L379,481 L382,477 L386,474 L390,471 L393,467 L397,464 L401,460 L405,457 L421,458 L432,457 L441,456 L448,454 L454,452 L459,449 L462,446 L464,442 L465,437 L464,432 L462,426 L455,417 L460,414 L465,411 L469,408 L474,405 L479,402 L483,399 L488,396 L493,393 L498,390 L503,387 L508,384 L513,381 L528,384 L539,385 L548,385 L557,384 L563,382 L569,380 L574,377 L577,373 L579,369 L581,364 L581,357 L577,349 L583,346 L588,344 L594,341 L600,339 L605,336 L611,334 L617,331 L623,329 L629,327 L635,324 L641,322 L647,320 L661,325 L671,327 L680,328 L688,328 L696,327 L702,325 L708,323 L712,320 L716,316 L719,311 L722,305 L721,296 L728,294 L734,292 L741,290 L747,289 L754,287 L760,285 L767,284 L773,282 L780,280 L787,279 L793,277 L800,276 L812,282 L821,285 L830,287 L838,288 L845,288 L852,288 L858,286 L864,283 L870,280 L874,275 L879,270 L882,261 L889,260 L896,259 L903,258 L910,257 L917,256 L924,255 L931,254 L938,254 L945,253 L952,252 L959,251 L966,251 L975,258 L984,262 L991,265 L999,267 L1006,268 L1013,268 L1020,267 L1026,266 L1033,263 L1039,259 L1046,254 L1052,246 L1059,245 L1066,245 L1073,245 L1081,245 L1088,245 L1095,245 L1102,245 L1109,245 L1117,245 L1124,245 L1131,245 L1138,246 L1144,254 L1151,259 L1157,263 L1164,266 L1170,267 L1177,268 L1184,268 L1191,267 L1199,265 L1206,262 L1215,258 L1224,251 L1231,251 L1238,252 L1245,253 L1252,254 L1259,254 L1266,255 L1273,256 L1280,257 L1287,258 L1294,259 L1301,260 L1308,261 L1311,270 L1316,275 L1320,280 L1326,283 L1332,286 L1338,288 L1345,288 L1352,288 L1360,287 L1369,285 L1378,282 L1390,276 L1397,277 L1403,279 L1410,280 L1417,282 L1423,284 L1430,285 L1436,287 L1443,289 L1449,290 L1456,292 L1462,294 L1469,296 L1468,305 L1471,311 L1474,316 L1478,320 L1482,323 L1488,325 L1494,327 L1502,328 L1510,328 L1519,327 L1529,325 L1543,320 L1549,322 L1555,324 L1561,327 L1567,329 L1573,331 L1579,334 L1585,336 L1590,339 L1596,341 L1602,344 L1607,346 L1613,349 L1609,357 L1609,364 L1611,369 L1613,373 L1616,377 L1621,380 L1627,382 L1633,384 L1642,385 L1651,385 L1662,384 L1677,381 L1682,384 L1687,387 L1692,390 L1697,393 L1702,396 L1707,399 L1711,402 L1716,405 L1721,408 L1725,411 L1730,414 L1735,417 L1728,426 L1726,432 L1725,437 L1726,442 L1728,446 L1731,449 L1736,452 L1742,454 L1749,456 L1758,457 L1769,458 L1785,457 L1789,460 L1793,464 L1797,467 L1800,471 L1804,474 L1808,477 L1811,481 L1815,485 L1818,488 L1822,492 L1825,495 L1828,499 L1819,506 L1814,512 L1812,517 L1811,521 L1811,526 L1813,529 L1817,533 L1822,536 L1829,538 L1837,541 L1847,543 L1863,543 L1866,547 L1868,551 L1871,555 L1873,559 L1875,562 L1878,566 L1880,570 L1882,574 L1884,578 L1886,582 L1888,586 L1890,590 L1878,596 L1871,601 L1867,605 L1864,610 L1863,614 L1864,618 L1866,621 L1870,625 L1876,628 L1883,631 L1893,635 L1908,637 L1909,641 L1910,645 L1911,649 L1912,653 L1913,657 L1913,661 L1914,665 L1915,669 L1915,674 L1916,678 L1916,682 L1917,686 L1903,690 L1895,694 L1889,698 L1884,702 L1882,706 L1881,710 Z"/>
<clipPath id="ringhole10"><ellipse cx="1095" cy="702" rx="633" ry="366"/></clipPath>
<ellipse fill="#fff" cx="1095" cy="702" rx="633" ry="366"/>
<g clip-path="url(#ringhole10)">
<ellipse cx="1095" cy="716" rx="630" ry="364"/>
<ellipse cx="1095" cy="730" rx="626" ry="362"/>
<ellipse cx="1095" cy="818" rx="612" ry="350" stroke-width="16"/>
<ellipse cx="1095" cy="856" rx="608" ry="348"/>
<ellipse cx="1095" cy="866" rx="608" ry="348"/>
<ellipse cx="1095" cy="896" rx="606" ry="346" stroke-width="16"/>
<ellipse cx="1095" cy="940" rx="604" ry="344"/>
<ellipse cx="1095" cy="950" rx="604" ry="344"/>
</g>
</g>
<g transform="translate(700,1422) scale(0.25)" stroke-width="5.2"><path d="M608,106 L631,95 L656,85 L683,76 L711,69 L740,63 L769,59 L800,56 L830,55 L861,55 L892,57 L922,61 L951,66 L980,73 L1008,81 L1034,90 L1059,101 L1083,113 L1104,126 L1123,140 L1141,156 L1155,172 L1168,188 L1178,205 L1185,223 L1189,241 L1191,259 L1190,277" stroke-width="47" stroke-linecap="butt"/>
<path d="M608,106 L631,95 L656,85 L683,76 L711,69 L740,63 L769,59 L800,56 L830,55 L861,55 L892,57 L922,61 L951,66 L980,73 L1008,81 L1034,90 L1059,101 L1083,113 L1104,126 L1123,140 L1141,156 L1155,172 L1168,188 L1178,205 L1185,223 L1189,241 L1191,259 L1190,277" stroke="#fff" stroke-width="37" stroke-linecap="butt"/>
<path d="M500,296 L499,279 L501,262 L505,246 L513,229 L522,213 L535,197 L550,183 L567,170 L586,158 L608,146 L631,136 L656,127 L682,120 L710,115 L739,111 L769,108 L799,107 L830,108 L860,110 L891,115 L921,121 L951,129 L980,138 L1008,148 L1034,160 L1059,174 L1082,190 L1104,206 L1123,224 L1140,242 L1155,261 L1168,282 L1177,303 L1185,325 L1189,346 L1191,369 L1190,391" stroke-width="47" stroke-linecap="butt"/>
<path d="M500,296 L499,280 L501,263 L505,246 L512,230 L522,214 L534,199 L548,185 L565,172 L583,159 L604,148 L627,138 L651,129 L677,122 L704,116 L732,112 L761,109 L791,107 L821,108 L852,109 L882,113 L912,119 L941,126 L970,134 L998,144 L1024,156 L1049,169 L1073,183 L1095,199 L1115,216 L1133,233 L1149,252 L1162,272 L1173,292 L1181,313 L1187,335 L1190,357 L1191,378 L1189,400" stroke="#fff" stroke-width="37" stroke-linecap="butt"/>
<path d="M500,529 L499,515 L501,501 L505,487 L513,474 L522,461 L535,448 L550,437 L567,426 L586,416 L608,407 L631,399 L656,392 L682,387 L710,383 L739,381 L769,380 L799,381 L830,383 L860,387 L891,392 L921,399 L951,408 L980,418 L1008,429 L1034,442 L1059,456 L1082,472 L1104,488 L1123,506 L1140,525 L1155,544 L1168,564 L1177,585 L1185,606 L1189,627 L1191,649 L1190,670" stroke-width="47" stroke-linecap="butt"/>
<path d="M501,535 L499,521 L500,507 L503,493 L509,480 L518,466 L529,454 L543,442 L559,431 L577,420 L597,411 L620,402 L644,395 L670,390 L697,385 L725,382 L754,380 L784,380 L814,382 L845,385 L876,389 L906,396 L936,403 L965,412 L993,423 L1020,435 L1046,449 L1070,463 L1093,479 L1113,496 L1131,514 L1147,533 L1161,553 L1172,573 L1181,594 L1187,615 L1190,636 L1191,658 L1189,679" stroke="#fff" stroke-width="37" stroke-linecap="butt"/>
<path d="M500,801 L499,787 L501,774 L505,760 L513,747 L522,734 L535,722 L550,710 L567,699 L586,689 L608,680 L631,673 L656,666 L682,661 L710,657 L739,655 L769,654 L799,655 L830,657 L860,661 L891,667 L921,674 L951,682 L980,693 L1008,704 L1034,717 L1059,731 L1082,747 L1104,763 L1123,781 L1140,799 L1155,819 L1168,839 L1177,860 L1185,881 L1189,902 L1191,924 L1190,945" stroke-width="47" stroke-linecap="butt"/>
<path d="M501,807 L499,793 L500,780 L503,766 L509,753 L518,739 L529,727 L543,715 L559,704 L577,694 L597,684 L620,676 L644,669 L670,663 L697,659 L725,656 L754,655 L784,655 L814,656 L845,659 L876,664 L906,670 L936,678 L965,687 L993,698 L1020,710 L1046,724 L1070,738 L1093,754 L1113,771 L1131,789 L1147,808 L1161,828 L1172,848 L1181,869 L1187,890 L1190,911 L1191,933 L1189,954" stroke="#fff" stroke-width="37" stroke-linecap="butt"/>
<path d="M500,1074 L499,1060 L501,1046 L505,1032 L513,1019 L522,1006 L535,993 L550,982 L567,971 L586,961 L608,952 L631,944 L656,937 L682,932 L710,928 L739,926 L769,925 L799,925 L830,928 L860,931 L891,937 L921,944 L951,952 L980,962 L1008,973 L1034,986 L1059,1000 L1082,1015 L1104,1032 L1123,1049 L1140,1068 L1155,1087 L1168,1107 L1177,1128 L1185,1149 L1189,1170 L1191,1191 L1190,1213" stroke-width="47" stroke-linecap="butt"/>
<path d="M501,1080 L499,1066 L500,1052 L503,1038 L509,1025 L518,1011 L529,999 L543,987 L559,975 L577,965 L597,956 L620,947 L644,940 L670,934 L697,930 L725,927 L754,925 L784,925 L814,926 L845,929 L876,934 L906,940 L936,947 L965,957 L993,967 L1020,979 L1046,993 L1070,1007 L1093,1023 L1113,1040 L1131,1058 L1147,1076 L1161,1096 L1172,1116 L1181,1137 L1187,1158 L1190,1179 L1191,1200 L1189,1222" stroke="#fff" stroke-width="37" stroke-linecap="butt"/>
<path d="M500,1336 L499,1322 L501,1308 L505,1294 L513,1281 L522,1268 L535,1255 L550,1242 L567,1231 L586,1220 L608,1210 L631,1201 L656,1194 L682,1187 L710,1182 L739,1178 L769,1176 L799,1175 L830,1175 L860,1177 L891,1180 L921,1185 L951,1191 L980,1199 L1008,1208 L1034,1219 L1059,1230 L1082,1242 L1104,1256 L1123,1271 L1140,1286 L1155,1303 L1168,1319 L1177,1336 L1185,1354 L1189,1371 L1191,1389 L1190,1407" stroke-width="47" stroke-linecap="butt"/>
<path d="M500,1336 L499,1322 L501,1308 L505,1294 L513,1281 L522,1268 L535,1255 L550,1242 L567,1231 L586,1220 L608,1210 L631,1201 L656,1194 L682,1187 L710,1182 L739,1178 L769,1176 L799,1175 L830,1175 L860,1177 L891,1180 L921,1185 L951,1191 L980,1199 L1008,1208 L1034,1219 L1059,1230 L1082,1242 L1104,1256 L1123,1271 L1140,1286 L1155,1303 L1168,1319 L1177,1336 L1185,1354 L1189,1371 L1191,1389 L1190,1407" stroke="#fff" stroke-width="37" stroke-linecap="butt"/>
<path d="M500,1412 L499,1394 L501,1376 L506,1358 L514,1340 L525,1323 L538,1306 L554,1290 L573,1275 L594,1262 L617,1249 L642,1238" stroke-width="47" stroke-linecap="butt"/>
<path d="M500,1412 L499,1394 L501,1376 L506,1358 L514,1340 L525,1323 L538,1306 L554,1290 L573,1275 L594,1262 L617,1249 L642,1238" stroke="#fff" stroke-width="37" stroke-linecap="butt"/>
<path d="M1190,247 L1191,265 L1189,283 L1185,301 L1177,319 L1168,336 L1155,353 L1140,369 L1123,384 L1104,398 L1082,411 L1059,423 L1034,434 L1008,444 L980,452 L951,459 L921,464 L891,468 L860,470 L830,470 L799,469 L769,467 L739,463 L710,457 L682,450 L656,442 L631,432 L608,421 L586,409 L567,396 L550,382 L535,367 L522,351 L513,335 L505,318 L501,302 L499,285 L500,268" stroke-width="47" stroke-linecap="butt"/>
<path d="M1190,247 L1191,265 L1189,283 L1185,301 L1177,319 L1168,336 L1155,353 L1140,369 L1123,384 L1104,398 L1082,411 L1059,423 L1034,434 L1008,444 L980,452 L951,459 L921,464 L891,468 L860,470 L830,470 L799,469 L769,467 L739,463 L710,457 L682,450 L656,442 L631,432 L608,421 L586,409 L567,396 L550,382 L535,367 L522,351 L513,335 L505,318 L501,302 L499,285 L500,268" stroke="#fff" stroke-width="37" stroke-linecap="butt"/>
<path d="M1190,353 L1191,375 L1189,398 L1185,419 L1177,441 L1168,462 L1155,483 L1140,503 L1123,522 L1104,540 L1082,557 L1059,573 L1034,587 L1008,601 L980,613 L951,623 L921,632 L891,639 L860,645 L830,649 L799,651 L769,652 L739,652 L710,649 L682,646 L656,641 L631,634 L608,627 L586,618 L567,608 L550,597 L535,586 L522,573 L513,560 L505,547 L501,533 L499,519 L500,505" stroke-width="47" stroke-linecap="butt"/>
<path d="M1189,344 L1191,366 L1190,388 L1187,410 L1181,432 L1172,453 L1161,474 L1147,494 L1131,513 L1113,532 L1093,549 L1070,566 L1046,581 L1020,595 L993,607 L965,618 L936,628 L906,636 L876,642 L845,647 L814,650 L784,652 L754,652 L725,651 L697,648 L670,644 L644,638 L620,631 L597,623 L577,614 L559,603 L543,592 L529,580 L518,568 L509,554 L503,541 L500,527 L499,513 L501,499" stroke="#fff" stroke-width="37" stroke-linecap="butt"/>
<path d="M1190,634 L1191,655 L1189,677 L1185,698 L1177,719 L1168,740 L1155,760 L1140,780 L1123,798 L1104,816 L1082,832 L1059,848 L1034,862 L1008,875 L980,886 L951,897 L921,905 L891,912 L860,918 L830,922 L799,924 L769,925 L739,924 L710,922 L682,918 L656,913 L631,906 L608,899 L586,890 L567,880 L550,869 L535,857 L522,845 L513,832 L505,819 L501,805 L499,792 L500,778" stroke-width="47" stroke-linecap="butt"/>
<path d="M1189,625 L1191,646 L1190,668 L1187,689 L1181,710 L1172,731 L1161,751 L1147,771 L1131,790 L1113,808 L1093,825 L1070,841 L1046,855 L1020,869 L993,881 L965,892 L936,901 L906,909 L876,915 L845,920 L814,923 L784,924 L754,924 L725,923 L697,920 L670,916 L644,910 L620,903 L597,895 L577,885 L559,875 L543,864 L529,852 L518,840 L509,826 L503,813 L500,799 L499,786 L501,772" stroke="#fff" stroke-width="37" stroke-linecap="butt"/>
<path d="M1190,909 L1191,930 L1189,952 L1185,973 L1177,994 L1168,1015 L1155,1035 L1140,1054 L1123,1073 L1104,1091 L1082,1107 L1059,1123 L1034,1137 L1008,1150 L980,1161 L951,1171 L921,1180 L891,1187 L860,1192 L830,1196 L799,1198 L769,1199 L739,1198 L710,1196 L682,1192 L656,1187 L631,1180 L608,1172 L586,1163 L567,1153 L550,1142 L535,1131 L522,1118 L513,1105 L505,1092 L501,1078 L499,1064 L500,1050" stroke-width="47" stroke-linecap="butt"/>
<path d="M1189,900 L1191,921 L1190,943 L1187,964 L1181,985 L1172,1006 L1161,1026 L1147,1046 L1131,1065 L1113,1083 L1093,1100 L1070,1116 L1046,1130 L1020,1144 L993,1156 L965,1167 L936,1176 L906,1183 L876,1190 L845,1194 L814,1197 L784,1199 L754,1199 L725,1197 L697,1194 L670,1189 L644,1184 L620,1177 L597,1168 L577,1159 L559,1148 L543,1137 L529,1125 L518,1113 L509,1099 L503,1086 L500,1072 L499,1058 L501,1044" stroke="#fff" stroke-width="37" stroke-linecap="butt"/>
<path d="M1190,1176 L1191,1198 L1189,1219 L1185,1240 L1177,1261 L1168,1282 L1155,1302 L1140,1321 L1123,1340 L1104,1357 L1082,1373 L1059,1389 L1034,1403 L1008,1416 L980,1427 L951,1437 L921,1445 L891,1452 L860,1457 L830,1461 L799,1463 L769,1464 L739,1463 L710,1460 L682,1456 L656,1451 L631,1444 L608,1436 L586,1427 L567,1417 L550,1406 L535,1394 L522,1381 L513,1368 L505,1355 L501,1341 L499,1327 L500,1313" stroke-width="47" stroke-linecap="butt"/>
<path d="M1189,1167 L1191,1188 L1190,1209 L1187,1231 L1181,1251 L1173,1272 L1162,1292 L1149,1311 L1133,1330 L1115,1347 L1095,1364 L1073,1380 L1049,1394 L1024,1408 L998,1420 L970,1430 L941,1440 L912,1447 L882,1454 L852,1458 L821,1462 L791,1463 L761,1463 L732,1462 L704,1459 L677,1455 L651,1450 L627,1443 L604,1435 L583,1426 L565,1416 L548,1405 L534,1393 L522,1380 L512,1367 L505,1354 L501,1340 L499,1326 L500,1313" stroke="#fff" stroke-width="37" stroke-linecap="butt"/>
<path d="M1190,1377 L1191,1395 L1189,1413 L1185,1430 L1177,1448 L1168,1465 L1155,1481 L1140,1497 L1123,1512 L1104,1526 L1082,1539 L1059,1550 L1034,1561 L1008,1570 L980,1578 L951,1584 L921,1589 L891,1592 L860,1594 L830,1594 L799,1593 L769,1590 L739,1585 L710,1579 L682,1572 L656,1563 L631,1553 L608,1541 L586,1529 L567,1515 L550,1500 L535,1485 L522,1469 L513,1452 L505,1435 L501,1418 L499,1400 L500,1383" stroke-width="47" stroke-linecap="butt"/>
<path d="M1190,1377 L1191,1395 L1189,1413 L1185,1430 L1177,1448 L1168,1465 L1155,1481 L1140,1497 L1123,1512 L1104,1526 L1082,1539 L1059,1550 L1034,1561 L1008,1570 L980,1578 L951,1584 L921,1589 L891,1592 L860,1594 L830,1594 L799,1593 L769,1590 L739,1585 L710,1579 L682,1572 L656,1563 L631,1553 L608,1541 L586,1529 L567,1515 L550,1500 L535,1485 L522,1469 L513,1452 L505,1435 L501,1418 L499,1400 L500,1383" stroke="#fff" stroke-width="37" stroke-linecap="butt"/>
<path d="M617,125 L599,87" stroke-width="5"/>
<path d="M633,1218 L650,1257" stroke-width="5"/>
</g>
<g transform="translate(680.25,1592.75) scale(0.125)" stroke-width="10.4"><ellipse fill="#fff" cx="0" cy="0" rx="200" ry="138"/>
<path d="M-112,-2 Q0,-90 112,-2 Q0,96 -112,-2 Z"/>
</g>
<g transform="translate(680.25,1728.75) scale(0.125)" stroke-width="10.4"><ellipse fill="#fff" cx="0" cy="0" rx="200" ry="138"/>
<path d="M-112,-2 Q0,-90 112,-2 Q0,96 -112,-2 Z"/>
</g>
<g transform="translate(540,1555) scale(0.125)" stroke-width="10.4"><ellipse fill="#fff" cx="1120" cy="935" rx="225" ry="135"/><path fill="#fff" stroke="none" d="M895,745 L895,935 L1345,935 L1345,745 Z"/><path d="M895,745 L895,935 M1345,745 L1345,935"/><ellipse fill="#fff" cx="1120" cy="745" rx="225" ry="135"/>
<path d="M903,775 A217,130 0 0 0 1337,775"/>
<ellipse cx="1120" cy="740" rx="140" ry="83"/>
<ellipse cx="1120" cy="748" rx="126" ry="73"/>
</g>
<g transform="translate(540,1745) scale(0.125)" stroke-width="10.4"><path fill="#fff" d="M810,322 L810,335 A311,182 0 0 0 1432,335 L1432,322 A311,182 0 0 0 810,322 Z"/>
<path d="M810,322 A311,180 0 0 0 1432,322"/>
<path fill="#fff" d="M890,285 L892,315 A228,135 0 0 0 1345,315 L1346,285 A228,145 0 0 0 890,285 Z"/>
<path d="M890,285 A228,138 0 0 0 1346,285"/>
<ellipse cx="1118" cy="272" rx="138" ry="80"/>
<ellipse cx="1118" cy="278" rx="122" ry="70"/>
<path d="M1012,322 A108,56 0 0 1 1224,322"/>
</g>
<g transform="translate(540,1745) scale(0.125)" stroke-width="10.4"><path fill="#fff" d="M708,985 C680,1020 655,1080 655,1130 C660,1230 690,1340 725,1420 C770,1520 930,1620 1120,1622 C1310,1620 1470,1520 1515,1420 C1550,1340 1580,1230 1585,1130 C1585,1080 1560,1020 1532,985 Z"/>
<clipPath id="lnutbody16"><path d="M708,985 C680,1020 655,1080 655,1130 C660,1230 690,1340 725,1420 C770,1520 930,1620 1120,1622 C1310,1620 1470,1520 1515,1420 C1550,1340 1580,1230 1585,1130 C1585,1080 1560,1020 1532,985 Z"/></clipPath>
<g clip-path="url(#lnutbody16)">
<path d="M658,1086 L725,1408"/>
<path d="M663,1113 L729,1433"/>
<path d="M674,1140 L739,1458"/>
<path d="M690,1165 L753,1482"/>
<path d="M697,1219 L758,1479" stroke-width="7"/>
<path d="M712,1190 L771,1504"/>
<path d="M721,1243 L779,1502" stroke-width="7"/>
<path d="M740,1213 L795,1526"/>
<path d="M750,1266 L804,1523" stroke-width="7"/>
<path d="M772,1234 L822,1546"/>
<path d="M784,1286 L833,1542" stroke-width="7"/>
<path d="M809,1254 L854,1564"/>
<path d="M822,1305 L865,1560" stroke-width="7"/>
<path d="M849,1271 L889,1580"/>
<path d="M864,1321 L901,1575" stroke-width="7"/>
<path d="M894,1285 L926,1594"/>
<path d="M909,1335 L940,1588" stroke-width="7"/>
<path d="M941,1297 L967,1605"/>
<path d="M957,1346 L981,1598" stroke-width="7"/>
<path d="M990,1306 L1009,1613"/>
<path d="M1007,1354 L1024,1605" stroke-width="7"/>
<path d="M1042,1313 L1053,1619"/>
<path d="M1059,1359 L1068,1610" stroke-width="7"/>
<path d="M1094,1316 L1098,1622"/>
<path d="M1111,1361 L1113,1612" stroke-width="7"/>
<path d="M1146,1316 L1142,1622"/>
<path d="M1164,1360 L1158,1611" stroke-width="7"/>
<path d="M1198,1313 L1187,1619"/>
<path d="M1216,1356 L1202,1607" stroke-width="7"/>
<path d="M1250,1306 L1231,1613"/>
<path d="M1267,1349 L1245,1601" stroke-width="7"/>
<path d="M1299,1297 L1273,1605"/>
<path d="M1315,1339 L1287,1591" stroke-width="7"/>
<path d="M1346,1285 L1314,1594"/>
<path d="M1362,1326 L1327,1579" stroke-width="7"/>
<path d="M1391,1271 L1351,1580"/>
<path d="M1405,1310 L1363,1565" stroke-width="7"/>
<path d="M1431,1254 L1386,1564"/>
<path d="M1444,1293 L1397,1548" stroke-width="7"/>
<path d="M1468,1234 L1418,1546"/>
<path d="M1479,1272 L1427,1529" stroke-width="7"/>
<path d="M1500,1213 L1445,1526"/>
<path d="M1510,1251 L1454,1509" stroke-width="7"/>
<path d="M1528,1190 L1469,1504"/>
<path d="M1536,1227 L1475,1487" stroke-width="7"/>
<path d="M1550,1165 L1487,1482"/>
<path d="M1556,1202 L1493,1464" stroke-width="7"/>
<path d="M1566,1140 L1501,1458"/>
<path d="M1577,1113 L1511,1433"/>
<path d="M1582,1086 L1515,1408"/>
</g>
<path d="M665,1065 C700,1200 900,1318 1120,1318 C1340,1318 1540,1200 1575,1065"/>
<path d="M690,1030 C720,1160 900,1290 1120,1290 C1340,1290 1520,1160 1550,1030"/>
<path fill="#fff" d="M708,985 L712,1010 C760,1160 940,1262 1120,1262 C1300,1262 1480,1160 1528,1010 L1532,985 A412,248 0 0 0 708,985 Z"/>
<ellipse fill="#fff" cx="1120" cy="985" rx="412" ry="248"/>
<clipPath id="lnuthole16"><ellipse cx="1120" cy="992" rx="385" ry="228"/></clipPath>
<ellipse cx="1120" cy="992" rx="385" ry="228"/>
<g clip-path="url(#lnuthole16)">
<ellipse cx="1120" cy="1010" rx="378" ry="224"/>
<ellipse cx="1120" cy="1042" rx="365" ry="212"/>
<ellipse cx="1120" cy="1083" rx="350" ry="203"/>
<ellipse cx="1120" cy="1126" rx="335" ry="194"/>
<ellipse cx="1120" cy="1169" rx="318" ry="184"/>
<ellipse cx="1120" cy="1209" rx="300" ry="174"/>
<ellipse cx="1120" cy="1249" rx="282" ry="164"/>
<ellipse cx="1110" cy="1175" rx="170" ry="48" stroke-width="14"/>
<ellipse cx="1110" cy="1180" rx="120" ry="30"/>
</g>
</g>
<g transform="translate(770,1895) scale(0.125)" stroke-width="10.4"><path fill="#fff" d="M835,1368 C860,1420 900,1455 980,1478 C1060,1495 1130,1492 1190,1486 L1225,1385 Z"/>
<path d="M1050,1395 L1052,1450 L1140,1452 L1142,1395 M1062,1400 L1064,1445 M1150,1400 C1165,1420 1165,1440 1150,1455"/>
<path d="M865,1375 L925,1418 M880,1372 L935,1410 M900,1378 L935,1402"/>
<path fill="#fff" d="M497,595 C400,650 305,760 303,880 C303,960 330,1030 400,1090 C500,1170 650,1250 790,1305 C900,1335 1000,1348 1100,1348 C1250,1348 1380,1338 1440,1322 L1445,1290 L1420,1265 L1490,1232 L1640,1275 L1650,1215 C1780,1150 1900,1020 1905,900 C1905,790 1820,690 1708,640 Z"/>
<path d="M310,960 C330,1020 360,1065 410,1105 C510,1185 660,1268 790,1322 C900,1352 1000,1366 1100,1366 C1250,1366 1380,1356 1445,1340 L1445,1290"/>
<path d="M335,1035 L775,1288 M395,1068 L790,1300"/>
<path d="M1650,1215 L1655,1255 C1780,1190 1890,1070 1900,950"/>
<path d="M1640,1275 L1655,1255"/>
<path fill="#fff" d="M497,480 L497,900 C500,960 540,1020 620,1075 C740,1160 920,1222 1100,1225 C1200,1226 1290,1215 1355,1195 L1355,790 L1100,480 Z"/>
<path fill="#fff" d="M1540,690 L1540,1110 L1565,1130 L1650,1215 L1640,1275 L1490,1232 L1490,1010 L1565,1090 C1640,1050 1700,980 1708,900 L1708,480 Z"/>
<path d="M1565,715 L1565,1090 M1540,690 L1565,715 L1708,600"/>
<path fill="#fff" d="M1355,790 L1355,1195 L1420,1265 L1445,1290 L1490,1232 L1490,1010 L1440,1075 L1365,1040 Z"/>
<path d="M1410,1065 L1410,1250 M1420,1265 L1440,1180 L1475,1205 L1425,1270" />
<path d="M1370,830 C1440,870 1480,930 1485,1000 L1440,1075 L1365,1040"/>
<path d="M1485,1000 C1520,960 1540,900 1540,860"/>
<ellipse fill="#fff" cx="1102" cy="480" rx="605" ry="348"/>
<clipPath id="cuphole17"><ellipse cx="1105" cy="490" rx="575" ry="330"/></clipPath>
<ellipse cx="1105" cy="490" rx="575" ry="330"/>
<g clip-path="url(#cuphole17)">
<ellipse cx="1105" cy="610" rx="560" ry="280"/>
<ellipse cx="1105" cy="735" rx="500" ry="245"/>
<ellipse cx="1105" cy="812" rx="190" ry="48"/>
<ellipse cx="1105" cy="822" rx="170" ry="42"/>
</g>
<path fill="#fff" stroke="none" d="M1358,760 L1537,660 L1537,900 L1358,900 Z"/>
<path d="M1355,790 L1340,778 L1300,790 M1540,690 L1540,860"/>
<path d="M1370,830 C1440,870 1480,930 1485,1000"/>
<path d="M1485,1000 C1520,960 1540,900 1540,860"/>
</g>
<g transform="translate(580,2040) scale(0.125)" stroke-width="10.4"><path fill="#fff" d="M585,210 L585,700 C575,780 535,850 515,940 C505,1010 530,1080 600,1180 C670,1265 750,1310 815,1312 C900,1300 1000,1225 1060,1130 C1090,1060 1085,990 1060,910 C1035,830 1018,770 1015,700 L1010,480 L1060,400 L1090,350 L1085,285 L995,240 C1030,215 1020,180 1005,165 C960,110 880,80 800,80 C690,80 590,130 585,210 Z"/>
<path d="M585,210 C590,280 690,322 840,322"/>
<path d="M600,235 C625,290 710,335 835,338"/>
<path d="M840,322 L945,365 L1085,288 M945,365 L945,432 L1090,350 M920,372 L922,440 L945,432 M922,440 L865,520"/>
<path d="M960,372 L960,425"/>
<path d="M840,322 L840,520 L865,622 C885,580 930,530 1010,500"/>
<path d="M852,335 L852,525 M870,540 L940,445 L1062,385 M868,560 C900,520 950,480 1020,455"/>
<ellipse cx="800" cy="205" rx="122" ry="75"/>
<ellipse cx="800" cy="214" rx="106" ry="62"/>
<path d="M702,232 C730,268 870,268 900,232"/>
<path d="M590,705 L760,790 C830,850 860,920 885,1000 C915,1090 940,1170 925,1230 C915,1265 890,1290 860,1305"/>
<path d="M605,755 L740,820 C790,860 810,900 830,950"/>
<path d="M590,705 C595,760 560,820 540,880"/>
<g transform="translate(722,1075) rotate(66)">
<ellipse cx="0" cy="0" rx="208" ry="128"/>
<ellipse cx="2" cy="4" rx="188" ry="110"/>
<ellipse cx="6" cy="10" rx="165" ry="90"/>
</g>
<path d="M745,945 C790,1000 820,1060 830,1120"/>
<path d="M765,960 C800,1005 820,1050 828,1090"/>
</g>
<g transform="translate(542.5,2066.25) scale(0.125)" stroke-width="10.4"><path fill="#fff" d="M1672,312 C1720,250 1790,215 1870,205 C1970,205 2062,300 2062,420 C2062,480 2035,520 1992,548 C1950,600 1880,632 1800,645 Z"/>
<path d="M1838,214 C1930,240 2010,330 2012,440 C2012,490 2000,520 1985,545"/>
<g transform="translate(1738,478) rotate(70)">
<ellipse fill="#fff" cx="0" cy="0" rx="178" ry="128"/>
<ellipse cx="4" cy="6" rx="160" ry="112"/>
<ellipse cx="6" cy="10" rx="146" ry="98"/>
</g>
</g>
<g transform="translate(2074,175) scale(0.125)" stroke-width="10.4"><path fill="#fff" d="M405,656 L405,956 A680,404 0 0 0 1765,956 L1765,656 A680,404 0 0 0 405,656 Z"/>
<ellipse cx="1085" cy="640" rx="650" ry="385"/>
<path d="M405,656 A680,404 0 0 0 1765,656"/>
<path d="M405,726 A680,404 0 0 0 1765,726"/>
<path d="M405,848 A680,404 0 0 0 1765,848"/>
<path d="M405,916 A680,404 0 0 0 1765,916"/>
<path d="M480,775 C600,850 800,930 1085,957 C1200,960 1320,935 1395,905"/>
<path fill="#fff" d="M1415,410 L1490,690 L1645,770 C1700,720 1735,660 1733,640"/>
<path d="M1500,660 L1650,740"/>
<path d="M1425,425 C1500,470 1560,560 1530,640 L1505,665"/>
<path d="M1440,470 C1490,510 1520,570 1500,630"/>
<path fill="#fff" d="M655,415 L800,150 C860,60 960,-15 1075,-15 C1200,-10 1310,120 1365,290 L1490,690 L1400,880 L1395,905 L1340,870 L1085,900 L700,500 Z" stroke="none"/>
<path d="M715,285 L800,150 C860,60 960,-15 1075,-15 C1200,-10 1310,120 1365,290 L1490,690"/>
<path d="M655,415 L800,160 C850,100 920,75 1000,105 C1080,150 1150,260 1200,420 L1310,760 L1400,880 L1395,905"/>
<path d="M675,440 L810,185 C850,130 920,105 985,135 C1060,175 1125,280 1165,400 L1290,780 L1345,865"/>
<path d="M1165,340 L1200,330"/>
<g transform="translate(988,372) rotate(64)">
<ellipse cx="0" cy="0" rx="218" ry="152"/>
<ellipse cx="4" cy="4" rx="200" ry="136"/>
<ellipse cx="14" cy="12" rx="176" ry="112"/>
</g>
<path d="M1025,235 C1050,330 1090,400 1135,440"/>
<path d="M1045,270 C1065,325 1095,375 1125,400"/>
<path d="M655,470 C610,540 620,640 700,720 C800,820 1000,870 1200,850 L1260,825"/>
<path d="M690,500 C655,560 670,640 740,700 C830,775 1000,810 1180,790"/>
<path d="M720,490 C700,560 720,620 780,670 C860,735 1010,765 1185,750 L1235,690"/>
<path d="M1185,750 L1245,835 L1260,825 L1290,775"/>
<path d="M1200,850 L1180,790"/>
<path d="M540,400 L640,412 L660,395"/>
<path d="M560,420 L645,430"/>
<path d="M650,410 L665,440 L690,430 L735,405 L740,460 L715,480 L700,500"/>
<path d="M665,440 L650,480 L690,490 L690,430"/>
<path fill="#fff" d="M470,780 L490,772 L520,790 L720,890 C770,925 800,960 810,990 L810,1215 L745,1202 L730,1210 L755,1240 L757,1265 L505,1115 L540,1097 L537,1080 L465,1015 L467,900 Z"/>
<path d="M470,780 L470,830 L540,890 L530,912 L467,900"/>
<path d="M540,1097 L735,1205"/>
<path d="M810,990 L745,1005 L735,1020 L755,1055 L810,1095"/>
<path d="M800,985 L800,1212"/>
<path d="M522,935 L627,985 L627,1075 L607,1065 L607,1060 L590,1055 L565,1077 L525,1052 L547,1022 L522,996 Z"/>
<path d="M557,982 L600,1010 L600,1035 L585,1040 L557,1000 Z"/>
<path d="M647,997 L750,1050 L755,1120 L720,1122 L750,1180 L710,1160 L685,1115 L670,1100 L665,1105 L640,1112 L615,1090 L647,1070 Z"/>
<path d="M680,1050 L720,1075 L715,1080 L685,1070 Z"/>
</g>
<g transform="translate(2073.6,104.6) scale(0.125)" stroke-width="10.4"><g transform="translate(296,288) rotate(50)">
<path fill="#fff" d="M0,-98 C-36,-98 -60,-60 -60,0 C-60,60 -36,98 0,98 L26,96 A26,96 0 0 0 26,-96 Z"/>
<path d="M0,-98 A26,98 0 0 1 0,98"/>
<path d="M26,-96 A26,96 0 0 1 26,96"/>
<path d="M12,-97 A26,97 0 0 1 12,97" stroke-width="6"/>
<path fill="#fff" d="M46,-57 L274,-57 A22,57 0 0 1 274,57 L46,57 A14,57 0 0 0 46,-57 Z"/>
<ellipse cx="274" cy="0" rx="22" ry="57"/>
<ellipse cx="278" cy="0" rx="12" ry="32"/>
</g>
</g>
<g transform="translate(2075.5,103.4) scale(0.125)" stroke-width="10.4"><path fill="#fff" d="M1672,312 C1720,250 1790,215 1870,205 C1970,205 2062,300 2062,420 C2062,480 2035,520 1992,548 C1950,600 1880,632 1800,645 Z"/>
<path d="M1838,214 C1930,240 2010,330 2012,440 C2012,490 2000,520 1985,545"/>
<g transform="translate(1738,478) rotate(70)">
<ellipse fill="#fff" cx="0" cy="0" rx="178" ry="128"/>
<ellipse cx="4" cy="6" rx="160" ry="112"/>
<ellipse cx="6" cy="10" rx="146" ry="98"/>
</g>
</g>
<g transform="translate(2069.25,358.9) scale(0.125)" stroke-width="10.4"><ellipse fill="#fff" cx="1122" cy="618" rx="603" ry="348"/><path fill="#fff" stroke="none" d="M519,533 L519,618 L1725,618 L1725,533 Z"/><path d="M519,533 L519,618 M1725,533 L1725,618"/><ellipse fill="#fff" cx="1122" cy="533" rx="603" ry="348"/>
<ellipse cx="1121" cy="542" rx="511" ry="297"/>
<ellipse cx="1121" cy="546" rx="496" ry="287"/>
<path d="M640,655 C700,740 880,828 1121,832 C1360,828 1540,740 1600,655"/>
<path d="M848,365 C1020,292 1216,292 1393,365"/>
<path d="M778,402 C708,460 668,535 663,620 L683,660"/>
<path d="M1458,402 C1528,460 1568,535 1573,620 L1553,660"/>
<path d="M778,402 C810,480 880,590 978,680 L1043,745"/>
<path d="M805,377 C840,460 905,560 998,650 L1078,727"/>
<path d="M843,365 C880,455 950,555 1038,640 L1118,705"/>
<path d="M1458,402 C1426,480 1356,590 1258,680 L1193,745"/>
<path d="M1431,377 C1396,460 1331,560 1238,650 L1158,727"/>
<path d="M1393,365 C1356,455 1286,555 1198,640 L1118,705"/>
<path d="M768,355 L805,377 L843,365 L803,338 M1468,355 L1431,377 L1393,365 L1433,338"/>
<path d="M1118,705 L1118,790"/>
<path d="M1043,745 C1000,762 960,768 913,770 M1193,745 C1236,762 1276,768 1323,770"/>
<path d="M1118,750 C1070,775 1000,790 928,790 M1118,750 C1166,775 1236,790 1308,790"/>
<path d="M1118,790 C1090,800 1075,810 1060,820 M1118,790 C1146,800 1161,810 1176,820"/>
<path d="M768,727 L803,702 L838,725 C860,748 885,765 913,770 M838,725 L805,752"/>
<path d="M1468,727 L1433,702 L1398,725 C1376,748 1351,765 1323,770 M1398,725 L1431,752"/>
</g>
<g transform="translate(2069.1,359.1) scale(0.125)" stroke-width="10.4"><path fill="#fff" d="M948,1245 L948,1340 L1000,1425 L1170,1450 L1290,1385 L1293,1290 L1280,1200 L960,1200 Z"/>
<path d="M948,1245 L1000,1340 L1170,1365 L1293,1292"/>
<path d="M1000,1340 L1000,1425 M1170,1365 L1170,1450"/>
<path d="M958,1335 L1005,1418 M1160,1368 L1160,1446"/>
<path fill="#fff" d="M960,1195 L962,1240 C1000,1320 1240,1320 1278,1240 L1280,1195 Z"/>
<path d="M975,1262 C1020,1300 1220,1300 1265,1262"/>
<ellipse fill="#fff" cx="1120" cy="1195" rx="160" ry="85"/>
<ellipse cx="1120" cy="1195" rx="122" ry="64"/>
<ellipse cx="1120" cy="1196" rx="98" ry="50"/>
<ellipse cx="1120" cy="1197" rx="66" ry="33"/>
<path d="M1050,1240 C1090,1262 1150,1262 1190,1240"/>
</g>
<g transform="translate(2068.5,544.6) scale(0.125)" stroke-width="10.4"><ellipse fill="#fff" cx="1136" cy="545" rx="468" ry="275"/><path fill="#fff" stroke="none" d="M668,470 L668,545 L1604,545 L1604,470 Z"/><path d="M668,470 L668,545 M1604,470 L1604,545"/><ellipse fill="#fff" cx="1136" cy="470" rx="468" ry="275"/>
<ellipse cx="1132" cy="452" rx="450" ry="250"/>
<ellipse cx="1135" cy="452" rx="115" ry="68"/>
<ellipse cx="1135" cy="462" rx="104" ry="58"/>
<g>
<ellipse cx="1178" cy="245" rx="36" ry="22"/><ellipse cx="910" cy="292" rx="36" ry="22"/>
<ellipse cx="1410" cy="325" rx="36" ry="22"/><ellipse cx="785" cy="425" rx="36" ry="22"/>
<ellipse cx="1488" cy="472" rx="36" ry="22"/><ellipse cx="857" cy="577" rx="36" ry="22"/>
<ellipse cx="1352" cy="608" rx="36" ry="22"/><ellipse cx="1090" cy="652" rx="36" ry="22"/>
</g>
<g font-family="Liberation Sans, sans-serif" font-size="250" text-anchor="middle" stroke-width="9" fill="none">
<text style="font-size:250px;font-weight:bold;fill:none;stroke:#1c1c1c;stroke-width:11px" transform="translate(1075,298) rotate(-8) scale(1,0.56) rotate(90)" x="0" y="88">1</text>
<text style="font-size:250px;font-weight:bold;fill:none;stroke:#1c1c1c;stroke-width:11px" transform="translate(1200,595) rotate(-5) scale(1,0.56) rotate(90)" x="0" y="88">2</text>
</g>
</g>
<g transform="translate(2069.25,538.9) scale(0.125)" stroke-width="10.4"><ellipse fill="#fff" cx="1120" cy="1245" rx="308" ry="180"/><path fill="#fff" stroke="none" d="M812,1215 L812,1245 L1428,1245 L1428,1215 Z"/><path d="M812,1215 L812,1245 M1428,1215 L1428,1245"/><ellipse fill="#fff" cx="1120" cy="1215" rx="308" ry="180"/>
<ellipse cx="1122" cy="1218" rx="108" ry="65"/>
<path d="M1022,1243 A100,56 0 0 1 1222,1243"/>
</g>
<g transform="translate(2069.1,757.25) scale(0.125)" stroke-width="10.4"><path fill="#fff" d="M992,525 C992,500 1005,485 1012,478 L1228,478 C1235,485 1245,500 1245,525 L1245,2512 A126.5,90 0 0 1 992,2512 Z"/>
<path d="M1003,540 L1003,2512 A115.5,82 0 0 0 1234,2512 "/>
<path d="M1000,528 A118,52 0 0 0 1240,528" stroke-width="18"/>
<path fill="#fff" d="M1012,425 L1012,520 A108,48 0 0 0 1228,520 L1228,425 C1225,395 1210,380 1200,375 L1040,375 C1030,380 1015,395 1012,425 Z"/>
<path d="M1012,425 A108,48 0 0 0 1228,425 M1012,452 A108,48 0 0 0 1228,452"/>
<path fill="#fff" d="M1040,185 L1040,385 A80,40 0 0 0 1200,385 L1200,185 Z"/>
<ellipse fill="#fff" cx="1120" cy="185" rx="80" ry="55"/>
<path d="M1040,200 A80,45 0 0 0 1200,200"/>
<ellipse cx="1120" cy="178" rx="54" ry="32"/>
</g>
<g transform="translate(2069.6,1090) scale(0.125) translate(1134,0) scale(0.955,1) translate(-1134,0)" stroke-width="10.4"><path fill="#fff" stroke="none" d="M530,1000 L530,1912 C535,1962 560,1992 570,2002 L1690,2007 C1700,1992 1725,1962 1730,1912 L1730,1000 Z"/>
<path d="M530,1000 L530,1912 C535,1962 560,1992 570,2002 M1690,2007 C1700,1992 1725,1962 1730,1912 L1730,1000"/>
<path d="M530,988 A600,232 0 0 0 1730,1022"/>
<path d="M530,1031 A600,231 0 0 0 1730,1065"/>
<path d="M530,1073 A600,230 0 0 0 1730,1107"/>
<path d="M530,1116 A600,229 0 0 0 1730,1150"/>
<path d="M530,1159 A600,228 0 0 0 1730,1193"/>
<path d="M530,1202 A600,227 0 0 0 1730,1236"/>
<path d="M530,1244 A600,226 0 0 0 1730,1278"/>
<path d="M530,1287 A600,225 0 0 0 1730,1321"/>
<path d="M530,1330 A600,224 0 0 0 1730,1364"/>
<path d="M530,1372 A600,223 0 0 0 1730,1406"/>
<path d="M530,1415 A600,222 0 0 0 1730,1449"/>
<path d="M530,1458 A600,221 0 0 0 1730,1492"/>
<path d="M530,1500 A600,220 0 0 0 1730,1534"/>
<path d="M530,1543 A600,219 0 0 0 1730,1577"/>
<path d="M530,1586 A600,218 0 0 0 1730,1620"/>
<path d="M530,1628 A600,217 0 0 0 1730,1662"/>
<path d="M530,1671 A600,216 0 0 0 1730,1705"/>
<path d="M530,1714 A600,215 0 0 0 1730,1748"/>
<path d="M530,1757 A600,214 0 0 0 1730,1791"/>
<path d="M530,1799 A600,213 0 0 0 1730,1833"/>
<path d="M530,1842 A600,212 0 0 0 1730,1876"/>
<path d="M530,1885 A600,211 0 0 0 1730,1919"/>
<path d="M530,1927 A600,210 0 0 0 1730,1961"/>
<path fill="#fff" d="M770,2638 L770,2782 C790,2892 950,2984 1130,2984 C1310,2984 1470,2892 1490,2782 L1490,2638 Z"/>
<path d="M770,2622 A360,128 0 0 0 1490,2632"/>
<path d="M770,2655 A360,128 0 0 0 1490,2665"/>
<path d="M770,2688 A360,128 0 0 0 1490,2698"/>
<path d="M770,2721 A360,128 0 0 0 1490,2731"/>
<path d="M770,2754 A360,128 0 0 0 1490,2764"/>
<path d="M770,2787 A360,128 0 0 0 1490,2797"/>
<path d="M800,2852 C860,2922 1000,2962 1130,2962 C1260,2962 1400,2922 1460,2857"/>
<path fill="#fff" d="M570,1997 C700,2122 900,2187 1130,2192 C1360,2187 1560,2122 1690,2002 L1690,2448 C1685,2588 1460,2708 1130,2708 C800,2708 575,2588 570,2448 Z"/>
<path d="M585,2047 C720,2152 900,2210 1130,2214 C1360,2210 1540,2152 1675,2052"/>
<path fill="#fff" d="M560,525 L440,630 L405,745 L405,830 L530,1020 L795,1125 L1195,1170 L1530,1110 L1800,950 L1850,850 L1862,780 L1830,690 L1760,570 L1705,525 Z"/>
<path d="M575,545 L460,645 L432,745 L432,800 L545,960 L800,1050 L1190,1078 L1525,1020 L1790,890 L1840,790 L1838,770 L1810,700 L1745,590 L1700,550"/>
<path d="M545,960 L530,1020 M800,1050 L797,1125 M1190,1078 L1197,1170 M1525,1020 L1528,1110 M1790,890 L1800,950 M432,745 L405,745 M432,800 L405,830 M1840,790 L1862,780"/>
<path d="M1200,1080 L1207,1168 M1515,1022 L1518,1110"/>
<path d="M600,770 C640,860 860,995 1134,998 C1410,995 1630,860 1675,770"/>
<path d="M615,790 C680,880 880,975 1134,978 C1390,975 1590,880 1655,790"/>
<path fill="#fff" d="M568,430 L568,700 C600,800 800,960 1134,965 C1470,960 1670,800 1700,700 L1700,430 A566,270 0 0 0 568,430 Z"/>
<path d="M568,462 A566,270 0 0 0 1700,470"/>
<path d="M568,497 A566,270 0 0 0 1700,505"/>
<path d="M568,540 A566,270 0 0 0 1700,548"/>
<path d="M568,585 A566,270 0 0 0 1700,593"/>
<path d="M568,627 A566,270 0 0 0 1700,635"/>
<path d="M568,672 A566,270 0 0 0 1700,680"/>
<path d="M590,745 C660,850 860,940 1134,943 C1410,940 1610,850 1680,745" stroke-width="16"/>
<ellipse fill="#fff" cx="1134" cy="430" rx="566" ry="270"/>
<ellipse cx="1134" cy="436" rx="505" ry="242"/>
<ellipse cx="1134" cy="440" rx="488" ry="232"/>
</g>
<g transform="translate(2328,1214) scale(0.125)" stroke-width="10.4"><path fill="#fff" d="M1881,845 L1882,849 L1884,853 L1889,857 L1895,861 L1903,865 L1917,869 L1916,873 L1916,877 L1915,881 L1915,886 L1914,890 L1913,894 L1913,898 L1912,902 L1911,906 L1910,910 L1909,914 L1908,918 L1893,920 L1883,924 L1876,927 L1870,930 L1866,934 L1864,937 L1863,941 L1864,945 L1867,950 L1871,954 L1878,959 L1890,965 L1888,969 L1886,973 L1884,977 L1882,981 L1880,985 L1878,989 L1875,993 L1873,996 L1871,1000 L1868,1004 L1866,1008 L1863,1012 L1847,1012 L1837,1014 L1829,1017 L1822,1019 L1817,1022 L1813,1026 L1811,1029 L1811,1034 L1812,1038 L1814,1043 L1819,1049 L1828,1056 L1825,1060 L1822,1063 L1818,1067 L1815,1070 L1811,1074 L1808,1078 L1804,1081 L1800,1084 L1797,1088 L1793,1091 L1789,1095 L1785,1098 L1769,1097 L1758,1098 L1749,1099 L1742,1101 L1736,1103 L1731,1106 L1728,1109 L1726,1113 L1725,1118 L1726,1123 L1728,1129 L1735,1138 L1730,1141 L1725,1144 L1721,1147 L1716,1150 L1711,1153 L1707,1156 L1702,1159 L1697,1162 L1692,1165 L1687,1168 L1682,1171 L1677,1174 L1662,1171 L1651,1170 L1642,1170 L1633,1171 L1627,1173 L1621,1175 L1616,1178 L1613,1182 L1611,1186 L1609,1191 L1609,1198 L1613,1206 L1607,1209 L1602,1211 L1596,1214 L1590,1216 L1585,1219 L1579,1221 L1573,1224 L1567,1226 L1561,1228 L1555,1231 L1549,1233 L1543,1235 L1529,1230 L1519,1228 L1510,1227 L1502,1227 L1494,1228 L1488,1230 L1482,1232 L1478,1235 L1474,1239 L1471,1244 L1468,1250 L1469,1259 L1462,1261 L1456,1263 L1449,1265 L1443,1266 L1436,1268 L1430,1270 L1423,1271 L1417,1273 L1410,1275 L1403,1276 L1397,1278 L1390,1279 L1378,1273 L1369,1270 L1360,1268 L1352,1267 L1345,1267 L1338,1267 L1332,1269 L1326,1272 L1320,1275 L1316,1280 L1311,1285 L1308,1294 L1301,1295 L1294,1296 L1287,1297 L1280,1298 L1273,1299 L1266,1300 L1259,1301 L1252,1301 L1245,1302 L1238,1303 L1231,1304 L1224,1304 L1215,1297 L1206,1293 L1199,1290 L1191,1288 L1184,1287 L1177,1287 L1170,1288 L1164,1289 L1157,1292 L1151,1296 L1144,1301 L1138,1309 L1131,1310 L1124,1310 L1117,1310 L1109,1310 L1102,1310 L1095,1310 L1088,1310 L1081,1310 L1073,1310 L1066,1310 L1059,1310 L1052,1309 L1046,1301 L1039,1296 L1033,1292 L1026,1289 L1020,1288 L1013,1287 L1006,1287 L999,1288 L991,1290 L984,1293 L975,1297 L966,1304 L959,1304 L952,1303 L945,1302 L938,1301 L931,1301 L924,1300 L917,1299 L910,1298 L903,1297 L896,1296 L889,1295 L882,1294 L879,1285 L874,1280 L870,1275 L864,1272 L858,1269 L852,1267 L845,1267 L838,1267 L830,1268 L821,1270 L812,1273 L800,1279 L793,1278 L787,1276 L780,1275 L773,1273 L767,1271 L760,1270 L754,1268 L747,1266 L741,1265 L734,1263 L728,1261 L721,1259 L722,1250 L719,1244 L716,1239 L712,1235 L708,1232 L702,1230 L696,1228 L688,1227 L680,1227 L671,1228 L661,1230 L647,1235 L641,1233 L635,1231 L629,1228 L623,1226 L617,1224 L611,1221 L605,1219 L600,1216 L594,1214 L588,1211 L583,1209 L577,1206 L581,1198 L581,1191 L579,1186 L577,1182 L574,1178 L569,1175 L563,1173 L557,1171 L548,1170 L539,1170 L528,1171 L513,1174 L508,1171 L503,1168 L498,1165 L493,1162 L488,1159 L483,1156 L479,1153 L474,1150 L469,1147 L465,1144 L460,1141 L455,1138 L462,1129 L464,1123 L465,1118 L464,1113 L462,1109 L459,1106 L454,1103 L448,1101 L441,1099 L432,1098 L421,1097 L405,1098 L401,1095 L397,1091 L393,1088 L390,1084 L386,1081 L382,1078 L379,1074 L375,1070 L372,1067 L368,1063 L365,1060 L362,1056 L371,1049 L376,1043 L378,1038 L379,1034 L379,1029 L377,1026 L373,1022 L368,1019 L361,1017 L353,1014 L343,1012 L327,1012 L324,1008 L322,1004 L319,1000 L317,996 L315,993 L312,989 L310,985 L308,981 L306,977 L304,973 L302,969 L300,965 L312,959 L319,954 L323,950 L326,945 L327,941 L326,937 L324,934 L320,930 L314,927 L307,924 L297,920 L282,918 L281,914 L280,910 L279,906 L278,902 L277,898 L277,894 L276,890 L275,886 L275,881 L274,877 L274,873 L273,869 L287,865 L295,861 L301,857 L306,853 L308,849 L309,845 L309,710 L308,714 L306,718 L301,722 L295,726 L287,730 L273,734 L274,738 L274,742 L275,746 L275,751 L276,755 L277,759 L277,763 L278,767 L279,771 L280,775 L281,779 L282,783 L297,785 L307,789 L314,792 L320,795 L324,799 L326,802 L327,806 L326,810 L323,815 L319,819 L312,824 L300,830 L302,834 L304,838 L306,842 L308,846 L310,850 L312,854 L315,858 L317,861 L319,865 L322,869 L324,873 L327,877 L343,877 L353,879 L361,882 L368,884 L373,887 L377,891 L379,894 L379,899 L378,903 L376,908 L371,914 L362,921 L365,925 L368,928 L372,932 L375,935 L379,939 L382,942 L386,946 L390,949 L393,953 L397,956 L401,960 L405,963 L421,962 L432,963 L441,964 L448,966 L454,968 L459,971 L462,974 L464,978 L465,983 L464,988 L462,994 L455,1003 L460,1006 L465,1009 L469,1012 L474,1015 L479,1018 L483,1021 L488,1024 L493,1027 L498,1030 L503,1033 L508,1036 L513,1039 L528,1036 L539,1035 L548,1035 L557,1036 L563,1038 L569,1040 L574,1043 L577,1047 L579,1051 L581,1056 L581,1063 L577,1071 L583,1074 L588,1076 L594,1079 L600,1081 L605,1084 L611,1086 L617,1089 L623,1091 L629,1093 L635,1096 L641,1098 L647,1100 L661,1095 L671,1093 L680,1092 L688,1092 L696,1093 L702,1095 L708,1097 L712,1100 L716,1104 L719,1109 L722,1115 L721,1124 L728,1126 L734,1128 L741,1130 L747,1131 L754,1133 L760,1135 L767,1136 L773,1138 L780,1140 L787,1141 L793,1143 L800,1144 L812,1138 L821,1135 L830,1133 L838,1132 L845,1132 L852,1132 L858,1134 L864,1137 L870,1140 L874,1145 L879,1150 L882,1159 L889,1160 L896,1161 L903,1162 L910,1163 L917,1164 L924,1165 L931,1166 L938,1166 L945,1167 L952,1168 L959,1169 L966,1169 L975,1162 L984,1158 L991,1155 L999,1153 L1006,1152 L1013,1152 L1020,1153 L1026,1154 L1033,1157 L1039,1161 L1046,1166 L1052,1174 L1059,1175 L1066,1175 L1073,1175 L1081,1175 L1088,1175 L1095,1175 L1102,1175 L1109,1175 L1117,1175 L1124,1175 L1131,1175 L1138,1174 L1144,1166 L1151,1161 L1157,1157 L1164,1154 L1170,1153 L1177,1152 L1184,1152 L1191,1153 L1199,1155 L1206,1158 L1215,1162 L1224,1169 L1231,1169 L1238,1168 L1245,1167 L1252,1166 L1259,1166 L1266,1165 L1273,1164 L1280,1163 L1287,1162 L1294,1161 L1301,1160 L1308,1159 L1311,1150 L1316,1145 L1320,1140 L1326,1137 L1332,1134 L1338,1132 L1345,1132 L1352,1132 L1360,1133 L1369,1135 L1378,1138 L1390,1144 L1397,1143 L1403,1141 L1410,1140 L1417,1138 L1423,1136 L1430,1135 L1436,1133 L1443,1131 L1449,1130 L1456,1128 L1462,1126 L1469,1124 L1468,1115 L1471,1109 L1474,1104 L1478,1100 L1482,1097 L1488,1095 L1494,1093 L1502,1092 L1510,1092 L1519,1093 L1529,1095 L1543,1100 L1549,1098 L1555,1096 L1561,1093 L1567,1091 L1573,1089 L1579,1086 L1585,1084 L1590,1081 L1596,1079 L1602,1076 L1607,1074 L1613,1071 L1609,1063 L1609,1056 L1611,1051 L1613,1047 L1616,1043 L1621,1040 L1627,1038 L1633,1036 L1642,1035 L1651,1035 L1662,1036 L1677,1039 L1682,1036 L1687,1033 L1692,1030 L1697,1027 L1702,1024 L1707,1021 L1711,1018 L1716,1015 L1721,1012 L1725,1009 L1730,1006 L1735,1003 L1728,994 L1726,988 L1725,983 L1726,978 L1728,974 L1731,971 L1736,968 L1742,966 L1749,964 L1758,963 L1769,962 L1785,963 L1789,960 L1793,956 L1797,953 L1800,949 L1804,946 L1808,942 L1811,939 L1815,935 L1818,932 L1822,928 L1825,925 L1828,921 L1819,914 L1814,908 L1812,903 L1811,899 L1811,894 L1813,891 L1817,887 L1822,884 L1829,882 L1837,879 L1847,877 L1863,877 L1866,873 L1868,869 L1871,865 L1873,861 L1875,858 L1878,854 L1880,850 L1882,846 L1884,842 L1886,838 L1888,834 L1890,830 L1878,824 L1871,819 L1867,815 L1864,810 L1863,806 L1864,802 L1866,799 L1870,795 L1876,792 L1883,789 L1893,785 L1908,783 L1909,779 L1910,775 L1911,771 L1912,767 L1913,763 L1913,759 L1914,755 L1915,751 L1915,746 L1916,742 L1916,738 L1917,734 L1903,730 L1895,726 L1889,722 L1884,718 L1882,714 L1881,710 Z"/>
<path d="M1908,782 L1908,917" stroke-width="12"/>
<path d="M1875,792 L1875,927" stroke-width="7"/>
<path d="M1864,802 L1864,937" stroke-width="7"/>
<path d="M1867,814 L1867,949" stroke-width="7"/>
<path d="M1890,831 L1890,966" stroke-width="12"/>
<path d="M1864,876 L1864,1011" stroke-width="12"/>
<path d="M1828,882 L1828,1017" stroke-width="7"/>
<path d="M1813,891 L1813,1026" stroke-width="7"/>
<path d="M1811,903 L1811,1038" stroke-width="7"/>
<path d="M1828,922 L1828,1057" stroke-width="12"/>
<path d="M1786,962 L1786,1097" stroke-width="12"/>
<path d="M1748,964 L1748,1099" stroke-width="7"/>
<path d="M1731,971 L1731,1106" stroke-width="7"/>
<path d="M1725,982 L1725,1117" stroke-width="7"/>
<path d="M1734,1003 L1734,1138" stroke-width="12"/>
<path d="M1678,1038 L1678,1173" stroke-width="12"/>
<path d="M1640,1035 L1640,1170" stroke-width="7"/>
<path d="M1621,1040 L1621,1175" stroke-width="7"/>
<path d="M1611,1051 L1611,1186" stroke-width="7"/>
<path d="M1612,1072 L1612,1207" stroke-width="12"/>
<path d="M1545,1099 L1545,1234" stroke-width="12"/>
<path d="M1509,1092 L1509,1227" stroke-width="7"/>
<path d="M1488,1095 L1488,1230" stroke-width="7"/>
<path d="M1474,1104 L1474,1239" stroke-width="7"/>
<path d="M1467,1125 L1467,1260" stroke-width="12"/>
<path d="M1392,1144 L1392,1279" stroke-width="12"/>
<path d="M1359,1133 L1359,1268" stroke-width="7"/>
<path d="M1338,1132 L1338,1267" stroke-width="7"/>
<path d="M1321,1140 L1321,1275" stroke-width="7"/>
<path d="M1306,1159 L1306,1294" stroke-width="12"/>
<path d="M1225,1169 L1225,1304" stroke-width="12"/>
<path d="M1198,1154 L1198,1289" stroke-width="7"/>
<path d="M1177,1152 L1177,1287" stroke-width="7"/>
<path d="M1158,1157 L1158,1292" stroke-width="7"/>
<path d="M1136,1174 L1136,1309" stroke-width="12"/>
<path d="M1054,1174 L1054,1309" stroke-width="12"/>
<path d="M1032,1157 L1032,1292" stroke-width="7"/>
<path d="M1013,1152 L1013,1287" stroke-width="7"/>
<path d="M992,1154 L992,1289" stroke-width="7"/>
<path d="M965,1169 L965,1304" stroke-width="12"/>
<path d="M884,1159 L884,1294" stroke-width="12"/>
<path d="M869,1140 L869,1275" stroke-width="7"/>
<path d="M852,1132 L852,1267" stroke-width="7"/>
<path d="M831,1133 L831,1268" stroke-width="7"/>
<path d="M798,1144 L798,1279" stroke-width="12"/>
<path d="M723,1125 L723,1260" stroke-width="12"/>
<path d="M716,1104 L716,1239" stroke-width="7"/>
<path d="M702,1095 L702,1230" stroke-width="7"/>
<path d="M681,1092 L681,1227" stroke-width="7"/>
<path d="M645,1099 L645,1234" stroke-width="12"/>
<path d="M578,1072 L578,1207" stroke-width="12"/>
<path d="M579,1051 L579,1186" stroke-width="7"/>
<path d="M569,1040 L569,1175" stroke-width="7"/>
<path d="M550,1035 L550,1170" stroke-width="7"/>
<path d="M512,1038 L512,1173" stroke-width="12"/>
<path d="M456,1003 L456,1138" stroke-width="12"/>
<path d="M465,982 L465,1117" stroke-width="7"/>
<path d="M459,971 L459,1106" stroke-width="7"/>
<path d="M442,964 L442,1099" stroke-width="7"/>
<path d="M404,962 L404,1097" stroke-width="12"/>
<path d="M362,922 L362,1057" stroke-width="12"/>
<path d="M379,903 L379,1038" stroke-width="7"/>
<path d="M377,891 L377,1026" stroke-width="7"/>
<path d="M362,882 L362,1017" stroke-width="7"/>
<path d="M326,876 L326,1011" stroke-width="12"/>
<path d="M300,831 L300,966" stroke-width="12"/>
<path d="M323,814 L323,949" stroke-width="7"/>
<path d="M326,802 L326,937" stroke-width="7"/>
<path d="M315,792 L315,927" stroke-width="7"/>
<path d="M282,782 L282,917" stroke-width="12"/>
<path fill="#fff" d="M1881,710 L1882,714 L1884,718 L1889,722 L1895,726 L1903,730 L1917,734 L1916,738 L1916,742 L1915,746 L1915,751 L1914,755 L1913,759 L1913,763 L1912,767 L1911,771 L1910,775 L1909,779 L1908,783 L1893,785 L1883,789 L1876,792 L1870,795 L1866,799 L1864,802 L1863,806 L1864,810 L1867,815 L1871,819 L1878,824 L1890,830 L1888,834 L1886,838 L1884,842 L1882,846 L1880,850 L1878,854 L1875,858 L1873,861 L1871,865 L1868,869 L1866,873 L1863,877 L1847,877 L1837,879 L1829,882 L1822,884 L1817,887 L1813,891 L1811,894 L1811,899 L1812,903 L1814,908 L1819,914 L1828,921 L1825,925 L1822,928 L1818,932 L1815,935 L1811,939 L1808,942 L1804,946 L1800,949 L1797,953 L1793,956 L1789,960 L1785,963 L1769,962 L1758,963 L1749,964 L1742,966 L1736,968 L1731,971 L1728,974 L1726,978 L1725,983 L1726,988 L1728,994 L1735,1003 L1730,1006 L1725,1009 L1721,1012 L1716,1015 L1711,1018 L1707,1021 L1702,1024 L1697,1027 L1692,1030 L1687,1033 L1682,1036 L1677,1039 L1662,1036 L1651,1035 L1642,1035 L1633,1036 L1627,1038 L1621,1040 L1616,1043 L1613,1047 L1611,1051 L1609,1056 L1609,1063 L1613,1071 L1607,1074 L1602,1076 L1596,1079 L1590,1081 L1585,1084 L1579,1086 L1573,1089 L1567,1091 L1561,1093 L1555,1096 L1549,1098 L1543,1100 L1529,1095 L1519,1093 L1510,1092 L1502,1092 L1494,1093 L1488,1095 L1482,1097 L1478,1100 L1474,1104 L1471,1109 L1468,1115 L1469,1124 L1462,1126 L1456,1128 L1449,1130 L1443,1131 L1436,1133 L1430,1135 L1423,1136 L1417,1138 L1410,1140 L1403,1141 L1397,1143 L1390,1144 L1378,1138 L1369,1135 L1360,1133 L1352,1132 L1345,1132 L1338,1132 L1332,1134 L1326,1137 L1320,1140 L1316,1145 L1311,1150 L1308,1159 L1301,1160 L1294,1161 L1287,1162 L1280,1163 L1273,1164 L1266,1165 L1259,1166 L1252,1166 L1245,1167 L1238,1168 L1231,1169 L1224,1169 L1215,1162 L1206,1158 L1199,1155 L1191,1153 L1184,1152 L1177,1152 L1170,1153 L1164,1154 L1157,1157 L1151,1161 L1144,1166 L1138,1174 L1131,1175 L1124,1175 L1117,1175 L1109,1175 L1102,1175 L1095,1175 L1088,1175 L1081,1175 L1073,1175 L1066,1175 L1059,1175 L1052,1174 L1046,1166 L1039,1161 L1033,1157 L1026,1154 L1020,1153 L1013,1152 L1006,1152 L999,1153 L991,1155 L984,1158 L975,1162 L966,1169 L959,1169 L952,1168 L945,1167 L938,1166 L931,1166 L924,1165 L917,1164 L910,1163 L903,1162 L896,1161 L889,1160 L882,1159 L879,1150 L874,1145 L870,1140 L864,1137 L858,1134 L852,1132 L845,1132 L838,1132 L830,1133 L821,1135 L812,1138 L800,1144 L793,1143 L787,1141 L780,1140 L773,1138 L767,1136 L760,1135 L754,1133 L747,1131 L741,1130 L734,1128 L728,1126 L721,1124 L722,1115 L719,1109 L716,1104 L712,1100 L708,1097 L702,1095 L696,1093 L688,1092 L680,1092 L671,1093 L661,1095 L647,1100 L641,1098 L635,1096 L629,1093 L623,1091 L617,1089 L611,1086 L605,1084 L600,1081 L594,1079 L588,1076 L583,1074 L577,1071 L581,1063 L581,1056 L579,1051 L577,1047 L574,1043 L569,1040 L563,1038 L557,1036 L548,1035 L539,1035 L528,1036 L513,1039 L508,1036 L503,1033 L498,1030 L493,1027 L488,1024 L483,1021 L479,1018 L474,1015 L469,1012 L465,1009 L460,1006 L455,1003 L462,994 L464,988 L465,983 L464,978 L462,974 L459,971 L454,968 L448,966 L441,964 L432,963 L421,962 L405,963 L401,960 L397,956 L393,953 L390,949 L386,946 L382,942 L379,939 L375,935 L372,932 L368,928 L365,925 L362,921 L371,914 L376,908 L378,903 L379,899 L379,894 L377,891 L373,887 L368,884 L361,882 L353,879 L343,877 L327,877 L324,873 L322,869 L319,865 L317,861 L315,858 L312,854 L310,850 L308,846 L306,842 L304,838 L302,834 L300,830 L312,824 L319,819 L323,815 L326,810 L327,806 L326,802 L324,799 L320,795 L314,792 L307,789 L297,785 L282,783 L281,779 L280,775 L279,771 L278,767 L277,763 L277,759 L276,755 L275,751 L275,746 L274,742 L274,738 L273,734 L287,730 L295,726 L301,722 L306,718 L308,714 L309,710 L308,706 L306,702 L301,698 L295,694 L287,690 L273,686 L274,682 L274,678 L275,674 L275,669 L276,665 L277,661 L277,657 L278,653 L279,649 L280,645 L281,641 L282,637 L297,635 L307,631 L314,628 L320,625 L324,621 L326,618 L327,614 L326,610 L323,605 L319,601 L312,596 L300,590 L302,586 L304,582 L306,578 L308,574 L310,570 L312,566 L315,562 L317,559 L319,555 L322,551 L324,547 L327,543 L343,543 L353,541 L361,538 L368,536 L373,533 L377,529 L379,526 L379,521 L378,517 L376,512 L371,506 L362,499 L365,495 L368,492 L372,488 L375,485 L379,481 L382,477 L386,474 L390,471 L393,467 L397,464 L401,460 L405,457 L421,458 L432,457 L441,456 L448,454 L454,452 L459,449 L462,446 L464,442 L465,437 L464,432 L462,426 L455,417 L460,414 L465,411 L469,408 L474,405 L479,402 L483,399 L488,396 L493,393 L498,390 L503,387 L508,384 L513,381 L528,384 L539,385 L548,385 L557,384 L563,382 L569,380 L574,377 L577,373 L579,369 L581,364 L581,357 L577,349 L583,346 L588,344 L594,341 L600,339 L605,336 L611,334 L617,331 L623,329 L629,327 L635,324 L641,322 L647,320 L661,325 L671,327 L680,328 L688,328 L696,327 L702,325 L708,323 L712,320 L716,316 L719,311 L722,305 L721,296 L728,294 L734,292 L741,290 L747,289 L754,287 L760,285 L767,284 L773,282 L780,280 L787,279 L793,277 L800,276 L812,282 L821,285 L830,287 L838,288 L845,288 L852,288 L858,286 L864,283 L870,280 L874,275 L879,270 L882,261 L889,260 L896,259 L903,258 L910,257 L917,256 L924,255 L931,254 L938,254 L945,253 L952,252 L959,251 L966,251 L975,258 L984,262 L991,265 L999,267 L1006,268 L1013,268 L1020,267 L1026,266 L1033,263 L1039,259 L1046,254 L1052,246 L1059,245 L1066,245 L1073,245 L1081,245 L1088,245 L1095,245 L1102,245 L1109,245 L1117,245 L1124,245 L1131,245 L1138,246 L1144,254 L1151,259 L1157,263 L1164,266 L1170,267 L1177,268 L1184,268 L1191,267 L1199,265 L1206,262 L1215,258 L1224,251 L1231,251 L1238,252 L1245,253 L1252,254 L1259,254 L1266,255 L1273,256 L1280,257 L1287,258 L1294,259 L1301,260 L1308,261 L1311,270 L1316,275 L1320,280 L1326,283 L1332,286 L1338,288 L1345,288 L1352,288 L1360,287 L1369,285 L1378,282 L1390,276 L1397,277 L1403,279 L1410,280 L1417,282 L1423,284 L1430,285 L1436,287 L1443,289 L1449,290 L1456,292 L1462,294 L1469,296 L1468,305 L1471,311 L1474,316 L1478,320 L1482,323 L1488,325 L1494,327 L1502,328 L1510,328 L1519,327 L1529,325 L1543,320 L1549,322 L1555,324 L1561,327 L1567,329 L1573,331 L1579,334 L1585,336 L1590,339 L1596,341 L1602,344 L1607,346 L1613,349 L1609,357 L1609,364 L1611,369 L1613,373 L1616,377 L1621,380 L1627,382 L1633,384 L1642,385 L1651,385 L1662,384 L1677,381 L1682,384 L1687,387 L1692,390 L1697,393 L1702,396 L1707,399 L1711,402 L1716,405 L1721,408 L1725,411 L1730,414 L1735,417 L1728,426 L1726,432 L1725,437 L1726,442 L1728,446 L1731,449 L1736,452 L1742,454 L1749,456 L1758,457 L1769,458 L1785,457 L1789,460 L1793,464 L1797,467 L1800,471 L1804,474 L1808,477 L1811,481 L1815,485 L1818,488 L1822,492 L1825,495 L1828,499 L1819,506 L1814,512 L1812,517 L1811,521 L1811,526 L1813,529 L1817,533 L1822,536 L1829,538 L1837,541 L1847,543 L1863,543 L1866,547 L1868,551 L1871,555 L1873,559 L1875,562 L1878,566 L1880,570 L1882,574 L1884,578 L1886,582 L1888,586 L1890,590 L1878,596 L1871,601 L1867,605 L1864,610 L1863,614 L1864,618 L1866,621 L1870,625 L1876,628 L1883,631 L1893,635 L1908,637 L1909,641 L1910,645 L1911,649 L1912,653 L1913,657 L1913,661 L1914,665 L1915,669 L1915,674 L1916,678 L1916,682 L1917,686 L1903,690 L1895,694 L1889,698 L1884,702 L1882,706 L1881,710 Z"/>
<clipPath id="ringhole29"><ellipse cx="1095" cy="702" rx="633" ry="366"/></clipPath>
<ellipse fill="#fff" cx="1095" cy="702" rx="633" ry="366"/>
<g clip-path="url(#ringhole29)">
<ellipse cx="1095" cy="716" rx="630" ry="364"/>
<ellipse cx="1095" cy="730" rx="626" ry="362"/>
<ellipse cx="1095" cy="818" rx="612" ry="350" stroke-width="16"/>
<ellipse cx="1095" cy="856" rx="608" ry="348"/>
<ellipse cx="1095" cy="866" rx="608" ry="348"/>
<ellipse cx="1095" cy="896" rx="606" ry="346" stroke-width="16"/>
<ellipse cx="1095" cy="940" rx="604" ry="344"/>
<ellipse cx="1095" cy="950" rx="604" ry="344"/>
</g>
</g>
<g transform="translate(2256,1417) scale(0.25)" stroke-width="5.2"><path d="M608,106 L631,95 L656,85 L683,76 L711,69 L740,63 L769,59 L800,56 L830,55 L861,55 L892,57 L922,61 L951,66 L980,73 L1008,81 L1034,90 L1059,101 L1083,113 L1104,126 L1123,140 L1141,155 L1155,171 L1168,188 L1178,205 L1185,223 L1189,241 L1191,259 L1190,277" stroke-width="44.0" stroke-linecap="butt"/>
<path d="M608,106 L631,95 L656,85 L683,76 L711,69 L740,63 L769,59 L800,56 L830,55 L861,55 L892,57 L922,61 L951,66 L980,73 L1008,81 L1034,90 L1059,101 L1083,113 L1104,126 L1123,140 L1141,155 L1155,171 L1168,188 L1178,205 L1185,223 L1189,241 L1191,259 L1190,277" stroke="#fff" stroke-width="34.0" stroke-linecap="butt"/>
<path d="M500,296 L499,279 L501,262 L505,245 L513,229 L522,212 L535,197 L550,183 L567,169 L586,157 L608,146 L631,136 L656,127 L682,120 L710,114 L739,110 L769,108 L799,107 L830,107 L860,110 L891,114 L921,120 L951,128 L980,137 L1008,147 L1034,159 L1059,173 L1082,188 L1104,205 L1123,222 L1140,241 L1155,260 L1168,280 L1177,301 L1185,323 L1189,345 L1191,367 L1190,389" stroke-width="44.0" stroke-linecap="butt"/>
<path d="M500,296 L499,279 L501,262 L505,246 L512,230 L522,214 L534,198 L548,184 L565,171 L583,159 L604,147 L627,137 L651,128 L677,121 L704,115 L732,111 L761,108 L791,107 L821,107 L852,109 L882,113 L912,118 L941,125 L970,133 L998,143 L1024,155 L1049,168 L1073,182 L1095,198 L1115,214 L1133,232 L1149,251 L1162,270 L1173,291 L1181,312 L1187,333 L1190,355 L1191,377 L1189,398" stroke="#fff" stroke-width="34.0" stroke-linecap="butt"/>
<path d="M500,525 L499,511 L501,497 L505,483 L513,470 L522,457 L535,444 L550,432 L567,421 L586,411 L608,402 L631,394 L656,388 L682,383 L710,379 L739,376 L769,375 L799,376 L830,378 L860,382 L891,387 L921,394 L951,403 L980,413 L1008,424 L1034,437 L1059,451 L1082,466 L1104,483 L1123,500 L1140,519 L1155,538 L1168,558 L1177,579 L1185,600 L1189,621 L1191,643 L1190,664" stroke-width="44.0" stroke-linecap="butt"/>
<path d="M501,531 L499,517 L500,503 L503,489 L509,476 L518,462 L529,450 L543,438 L559,426 L577,416 L597,406 L620,398 L644,391 L670,385 L697,380 L725,377 L754,376 L784,375 L814,377 L845,380 L876,384 L906,390 L936,398 L965,407 L993,418 L1020,430 L1046,443 L1070,458 L1093,474 L1113,491 L1131,509 L1147,528 L1161,547 L1172,567 L1181,588 L1187,609 L1190,631 L1191,652 L1189,673" stroke="#fff" stroke-width="34.0" stroke-linecap="butt"/>
<path d="M500,793 L499,779 L501,766 L505,752 L513,739 L522,726 L535,713 L550,702 L567,691 L586,681 L608,672 L631,664 L656,658 L682,652 L710,649 L739,646 L769,645 L799,646 L830,648 L860,652 L891,658 L921,665 L951,673 L980,683 L1008,695 L1034,708 L1059,722 L1082,737 L1104,754 L1123,771 L1140,790 L1155,809 L1168,829 L1177,850 L1185,871 L1189,892 L1191,914 L1190,935" stroke-width="44.0" stroke-linecap="butt"/>
<path d="M501,799 L499,785 L500,771 L503,758 L509,744 L518,731 L529,719 L543,707 L559,696 L577,685 L597,676 L620,668 L644,661 L670,655 L697,650 L725,647 L754,646 L784,646 L814,647 L845,650 L876,655 L906,661 L936,669 L965,678 L993,689 L1020,701 L1046,714 L1070,729 L1093,745 L1113,762 L1131,780 L1147,798 L1161,818 L1172,838 L1181,859 L1187,880 L1190,901 L1191,923 L1189,944" stroke="#fff" stroke-width="34.0" stroke-linecap="butt"/>
<path d="M500,1062 L499,1048 L501,1034 L505,1020 L513,1006 L522,993 L535,981 L550,969 L567,958 L586,948 L608,939 L631,931 L656,925 L682,919 L710,915 L739,913 L769,912 L799,912 L830,914 L860,918 L891,923 L921,930 L951,939 L980,948 L1008,960 L1034,973 L1059,987 L1082,1002 L1104,1018 L1123,1036 L1140,1054 L1155,1073 L1168,1093 L1177,1114 L1185,1135 L1189,1156 L1191,1177 L1190,1199" stroke-width="44.0" stroke-linecap="butt"/>
<path d="M501,1068 L499,1054 L500,1040 L503,1026 L509,1012 L518,999 L529,986 L543,974 L559,963 L577,953 L597,943 L620,935 L644,927 L670,922 L697,917 L725,914 L754,912 L784,912 L814,913 L845,916 L876,921 L906,927 L936,934 L965,943 L993,954 L1020,966 L1046,979 L1070,994 L1093,1009 L1113,1026 L1131,1044 L1147,1063 L1161,1082 L1172,1102 L1181,1123 L1187,1144 L1190,1165 L1191,1186 L1189,1208" stroke="#fff" stroke-width="34.0" stroke-linecap="butt"/>
<path d="M500,1320 L499,1306 L501,1292 L505,1278 L513,1265 L522,1251 L535,1239 L550,1226 L567,1214 L586,1203 L608,1193 L631,1185 L656,1177 L682,1171 L710,1165 L739,1161 L769,1159 L799,1158 L830,1159 L860,1160 L891,1164 L921,1168 L951,1174 L980,1182 L1008,1191 L1034,1202 L1059,1213 L1082,1225 L1104,1239 L1123,1254 L1140,1269 L1155,1286 L1168,1302 L1177,1319 L1185,1337 L1189,1354 L1191,1372 L1190,1390" stroke-width="44.0" stroke-linecap="butt"/>
<path d="M500,1320 L499,1306 L501,1292 L505,1278 L513,1265 L522,1251 L535,1239 L550,1226 L567,1214 L586,1203 L608,1193 L631,1185 L656,1177 L682,1171 L710,1165 L739,1161 L769,1159 L799,1158 L830,1159 L860,1160 L891,1164 L921,1168 L951,1174 L980,1182 L1008,1191 L1034,1202 L1059,1213 L1082,1225 L1104,1239 L1123,1254 L1140,1269 L1155,1286 L1168,1302 L1177,1319 L1185,1337 L1189,1354 L1191,1372 L1190,1390" stroke="#fff" stroke-width="34.0" stroke-linecap="butt"/>
<path d="M500,1395 L499,1377 L501,1359 L506,1341 L514,1323 L525,1306 L538,1289 L554,1273 L573,1258 L594,1244 L617,1232 L642,1220" stroke-width="44.0" stroke-linecap="butt"/>
<path d="M500,1395 L499,1377 L501,1359 L506,1341 L514,1323 L525,1306 L538,1289 L554,1273 L573,1258 L594,1244 L617,1232 L642,1220" stroke="#fff" stroke-width="34.0" stroke-linecap="butt"/>
<path d="M1190,246 L1191,265 L1189,283 L1185,301 L1177,319 L1168,336 L1155,352 L1140,368 L1123,384 L1104,398 L1082,411 L1059,423 L1034,434 L1008,444 L980,452 L951,459 L921,464 L891,468 L860,470 L830,470 L799,469 L769,467 L739,463 L710,457 L682,450 L656,441 L631,432 L608,421 L586,409 L567,395 L550,381 L535,366 L522,351 L513,335 L505,318 L501,301 L499,284 L500,267" stroke-width="44.0" stroke-linecap="butt"/>
<path d="M1190,246 L1191,265 L1189,283 L1185,301 L1177,319 L1168,336 L1155,352 L1140,368 L1123,384 L1104,398 L1082,411 L1059,423 L1034,434 L1008,444 L980,452 L951,459 L921,464 L891,468 L860,470 L830,470 L799,469 L769,467 L739,463 L710,457 L682,450 L656,441 L631,432 L608,421 L586,409 L567,395 L550,381 L535,366 L522,351 L513,335 L505,318 L501,301 L499,284 L500,267" stroke="#fff" stroke-width="34.0" stroke-linecap="butt"/>
<path d="M1190,352 L1191,374 L1189,396 L1185,418 L1177,439 L1168,460 L1155,481 L1140,501 L1123,520 L1104,538 L1082,555 L1059,570 L1034,585 L1008,598 L980,610 L951,620 L921,629 L891,636 L860,642 L830,646 L799,648 L769,649 L739,649 L710,646 L682,643 L656,638 L631,631 L608,623 L586,615 L567,605 L550,594 L535,582 L522,570 L513,556 L505,543 L501,529 L499,515 L500,501" stroke-width="44.0" stroke-linecap="butt"/>
<path d="M1189,342 L1191,364 L1190,386 L1187,408 L1181,430 L1172,451 L1161,472 L1147,492 L1131,511 L1113,529 L1093,547 L1070,563 L1046,578 L1020,592 L993,604 L965,615 L936,625 L906,633 L876,639 L845,644 L814,647 L784,649 L754,649 L725,648 L697,645 L670,640 L644,635 L620,628 L597,619 L577,610 L559,600 L543,589 L529,577 L518,564 L509,551 L503,537 L500,523 L499,509 L501,495" stroke="#fff" stroke-width="34.0" stroke-linecap="butt"/>
<path d="M1190,628 L1191,649 L1189,671 L1185,692 L1177,713 L1168,734 L1155,754 L1140,773 L1123,792 L1104,809 L1082,826 L1059,841 L1034,855 L1008,868 L980,880 L951,890 L921,898 L891,905 L860,911 L830,915 L799,917 L769,917 L739,917 L710,914 L682,911 L656,905 L631,899 L608,891 L586,882 L567,872 L550,861 L535,850 L522,837 L513,824 L505,811 L501,797 L499,784 L500,770" stroke-width="44.0" stroke-linecap="butt"/>
<path d="M1189,619 L1191,640 L1190,662 L1187,683 L1181,704 L1172,725 L1161,745 L1147,765 L1131,783 L1113,801 L1093,818 L1070,834 L1046,849 L1020,862 L993,874 L965,885 L936,894 L906,902 L876,908 L845,913 L814,916 L784,917 L754,917 L725,916 L697,913 L670,908 L644,902 L620,895 L597,887 L577,878 L559,867 L543,856 L529,844 L518,832 L509,819 L503,805 L500,791 L499,778 L501,764" stroke="#fff" stroke-width="34.0" stroke-linecap="butt"/>
<path d="M1190,899 L1191,920 L1189,942 L1185,963 L1177,984 L1168,1005 L1155,1025 L1140,1044 L1123,1063 L1104,1080 L1082,1097 L1059,1112 L1034,1126 L1008,1139 L980,1150 L951,1160 L921,1169 L891,1176 L860,1181 L830,1185 L799,1187 L769,1188 L739,1187 L710,1184 L682,1180 L656,1175 L631,1169 L608,1161 L586,1152 L567,1142 L550,1131 L535,1119 L522,1106 L513,1093 L505,1080 L501,1066 L499,1052 L500,1038" stroke-width="44.0" stroke-linecap="butt"/>
<path d="M1189,890 L1191,911 L1190,932 L1187,954 L1181,975 L1172,996 L1161,1016 L1147,1035 L1131,1054 L1113,1072 L1093,1089 L1070,1105 L1046,1120 L1020,1133 L993,1145 L965,1156 L936,1165 L906,1173 L876,1179 L845,1183 L814,1186 L784,1188 L754,1187 L725,1186 L697,1183 L670,1178 L644,1172 L620,1165 L597,1157 L577,1147 L559,1137 L543,1125 L529,1113 L518,1101 L509,1087 L503,1074 L500,1060 L499,1046 L501,1032" stroke="#fff" stroke-width="34.0" stroke-linecap="butt"/>
<path d="M1190,1162 L1191,1184 L1189,1205 L1185,1226 L1177,1247 L1168,1268 L1155,1287 L1140,1307 L1123,1325 L1104,1342 L1082,1359 L1059,1374 L1034,1388 L1008,1401 L980,1412 L951,1422 L921,1430 L891,1437 L860,1442 L830,1446 L799,1448 L769,1448 L739,1447 L710,1445 L682,1441 L656,1435 L631,1428 L608,1421 L586,1411 L567,1401 L550,1390 L535,1378 L522,1366 L513,1352 L505,1339 L501,1325 L499,1311 L500,1296" stroke-width="44.0" stroke-linecap="butt"/>
<path d="M1189,1153 L1191,1174 L1190,1195 L1187,1216 L1181,1237 L1173,1257 L1162,1277 L1149,1297 L1133,1315 L1115,1333 L1095,1350 L1073,1365 L1049,1380 L1024,1393 L998,1405 L970,1416 L941,1425 L912,1432 L882,1439 L852,1443 L821,1446 L791,1448 L761,1448 L732,1447 L704,1444 L677,1440 L651,1434 L627,1427 L604,1419 L583,1410 L565,1400 L548,1389 L534,1377 L522,1365 L512,1351 L505,1338 L501,1324 L499,1310 L500,1296" stroke="#fff" stroke-width="34.0" stroke-linecap="butt"/>
<path d="M1190,1360 L1191,1378 L1189,1396 L1185,1413 L1177,1431 L1168,1448 L1155,1464 L1140,1480 L1123,1495 L1104,1509 L1082,1522 L1059,1533 L1034,1544 L1008,1553 L980,1561 L951,1567 L921,1572 L891,1575 L860,1577 L830,1577 L799,1576 L769,1573 L739,1568 L710,1562 L682,1555 L656,1546 L631,1536 L608,1524 L586,1512 L567,1498 L550,1483 L535,1468 L522,1452 L513,1435 L505,1418 L501,1401 L499,1383 L500,1365" stroke-width="44.0" stroke-linecap="butt"/>
<path d="M1190,1360 L1191,1378 L1189,1396 L1185,1413 L1177,1431 L1168,1448 L1155,1464 L1140,1480 L1123,1495 L1104,1509 L1082,1522 L1059,1533 L1034,1544 L1008,1553 L980,1561 L951,1567 L921,1572 L891,1575 L860,1577 L830,1577 L799,1576 L769,1573 L739,1568 L710,1562 L682,1555 L656,1546 L631,1536 L608,1524 L586,1512 L567,1498 L550,1483 L535,1468 L522,1452 L513,1435 L505,1418 L501,1401 L499,1383 L500,1365" stroke="#fff" stroke-width="34.0" stroke-linecap="butt"/>
<path d="M617,123 L600,88" stroke-width="5"/>
<path d="M634,1203 L650,1238" stroke-width="5"/>
</g>
<g transform="translate(2209.25,1591.75) scale(0.125)" stroke-width="10.4"><ellipse fill="#fff" cx="0" cy="0" rx="200" ry="138"/>
<path d="M-112,-2 Q0,-90 112,-2 Q0,96 -112,-2 Z"/>
</g>
<g transform="translate(2209.25,1727.75) scale(0.125)" stroke-width="10.4"><ellipse fill="#fff" cx="0" cy="0" rx="200" ry="138"/>
<path d="M-112,-2 Q0,-90 112,-2 Q0,96 -112,-2 Z"/>
</g>
<g transform="translate(2069,1554) scale(0.125)" stroke-width="10.4"><ellipse fill="#fff" cx="1120" cy="935" rx="225" ry="135"/><path fill="#fff" stroke="none" d="M895,745 L895,935 L1345,935 L1345,745 Z"/><path d="M895,745 L895,935 M1345,745 L1345,935"/><ellipse fill="#fff" cx="1120" cy="745" rx="225" ry="135"/>
<path d="M903,775 A217,130 0 0 0 1337,775"/>
<ellipse cx="1120" cy="740" rx="140" ry="83"/>
<ellipse cx="1120" cy="748" rx="126" ry="73"/>
</g>
<g transform="translate(2069,1744) scale(0.125)" stroke-width="10.4"><path fill="#fff" d="M810,322 L810,335 A311,182 0 0 0 1432,335 L1432,322 A311,182 0 0 0 810,322 Z"/>
<path d="M810,322 A311,180 0 0 0 1432,322"/>
<path fill="#fff" d="M890,285 L892,315 A228,135 0 0 0 1345,315 L1346,285 A228,145 0 0 0 890,285 Z"/>
<path d="M890,285 A228,138 0 0 0 1346,285"/>
<ellipse cx="1118" cy="272" rx="138" ry="80"/>
<ellipse cx="1118" cy="278" rx="122" ry="70"/>
<path d="M1012,322 A108,56 0 0 1 1224,322"/>
</g>
<g transform="translate(2069,1744) scale(0.125)" stroke-width="10.4"><path fill="#fff" d="M708,985 C680,1020 655,1080 655,1130 C660,1230 690,1340 725,1420 C770,1520 930,1620 1120,1622 C1310,1620 1470,1520 1515,1420 C1550,1340 1580,1230 1585,1130 C1585,1080 1560,1020 1532,985 Z"/>
<clipPath id="lnutbody35"><path d="M708,985 C680,1020 655,1080 655,1130 C660,1230 690,1340 725,1420 C770,1520 930,1620 1120,1622 C1310,1620 1470,1520 1515,1420 C1550,1340 1580,1230 1585,1130 C1585,1080 1560,1020 1532,985 Z"/></clipPath>
<g clip-path="url(#lnutbody35)">
<path d="M658,1086 L725,1408"/>
<path d="M663,1113 L729,1433"/>
<path d="M674,1140 L739,1458"/>
<path d="M690,1165 L753,1482"/>
<path d="M697,1219 L758,1479" stroke-width="7"/>
<path d="M712,1190 L771,1504"/>
<path d="M721,1243 L779,1502" stroke-width="7"/>
<path d="M740,1213 L795,1526"/>
<path d="M750,1266 L804,1523" stroke-width="7"/>
<path d="M772,1234 L822,1546"/>
<path d="M784,1286 L833,1542" stroke-width="7"/>
<path d="M809,1254 L854,1564"/>
<path d="M822,1305 L865,1560" stroke-width="7"/>
<path d="M849,1271 L889,1580"/>
<path d="M864,1321 L901,1575" stroke-width="7"/>
<path d="M894,1285 L926,1594"/>
<path d="M909,1335 L940,1588" stroke-width="7"/>
<path d="M941,1297 L967,1605"/>
<path d="M957,1346 L981,1598" stroke-width="7"/>
<path d="M990,1306 L1009,1613"/>
<path d="M1007,1354 L1024,1605" stroke-width="7"/>
<path d="M1042,1313 L1053,1619"/>
<path d="M1059,1359 L1068,1610" stroke-width="7"/>
<path d="M1094,1316 L1098,1622"/>
<path d="M1111,1361 L1113,1612" stroke-width="7"/>
<path d="M1146,1316 L1142,1622"/>
<path d="M1164,1360 L1158,1611" stroke-width="7"/>
<path d="M1198,1313 L1187,1619"/>
<path d="M1216,1356 L1202,1607" stroke-width="7"/>
<path d="M1250,1306 L1231,1613"/>
<path d="M1267,1349 L1245,1601" stroke-width="7"/>
<path d="M1299,1297 L1273,1605"/>
<path d="M1315,1339 L1287,1591" stroke-width="7"/>
<path d="M1346,1285 L1314,1594"/>
<path d="M1362,1326 L1327,1579" stroke-width="7"/>
<path d="M1391,1271 L1351,1580"/>
<path d="M1405,1310 L1363,1565" stroke-width="7"/>
<path d="M1431,1254 L1386,1564"/>
<path d="M1444,1293 L1397,1548" stroke-width="7"/>
<path d="M1468,1234 L1418,1546"/>
<path d="M1479,1272 L1427,1529" stroke-width="7"/>
<path d="M1500,1213 L1445,1526"/>
<path d="M1510,1251 L1454,1509" stroke-width="7"/>
<path d="M1528,1190 L1469,1504"/>
<path d="M1536,1227 L1475,1487" stroke-width="7"/>
<path d="M1550,1165 L1487,1482"/>
<path d="M1556,1202 L1493,1464" stroke-width="7"/>
<path d="M1566,1140 L1501,1458"/>
<path d="M1577,1113 L1511,1433"/>
<path d="M1582,1086 L1515,1408"/>
</g>
<path d="M665,1065 C700,1200 900,1318 1120,1318 C1340,1318 1540,1200 1575,1065"/>
<path d="M690,1030 C720,1160 900,1290 1120,1290 C1340,1290 1520,1160 1550,1030"/>
<path fill="#fff" d="M708,985 L712,1010 C760,1160 940,1262 1120,1262 C1300,1262 1480,1160 1528,1010 L1532,985 A412,248 0 0 0 708,985 Z"/>
<ellipse fill="#fff" cx="1120" cy="985" rx="412" ry="248"/>
<clipPath id="lnuthole35"><ellipse cx="1120" cy="992" rx="385" ry="228"/></clipPath>
<ellipse cx="1120" cy="992" rx="385" ry="228"/>
<g clip-path="url(#lnuthole35)">
<ellipse cx="1120" cy="1010" rx="378" ry="224"/>
<ellipse cx="1120" cy="1042" rx="365" ry="212"/>
<ellipse cx="1120" cy="1083" rx="350" ry="203"/>
<ellipse cx="1120" cy="1126" rx="335" ry="194"/>
<ellipse cx="1120" cy="1169" rx="318" ry="184"/>
<ellipse cx="1120" cy="1209" rx="300" ry="174"/>
<ellipse cx="1120" cy="1249" rx="282" ry="164"/>
<ellipse cx="1110" cy="1175" rx="170" ry="48" stroke-width="14"/>
<ellipse cx="1110" cy="1180" rx="120" ry="30"/>
</g>
</g>
<g transform="translate(2325.9,1890.25) scale(0.125)" stroke-width="10.4"><path fill="#fff" d="M835,1368 C860,1420 900,1455 980,1478 C1060,1495 1130,1492 1190,1486 L1225,1385 Z"/>
<path d="M1050,1395 L1052,1450 L1140,1452 L1142,1395 M1062,1400 L1064,1445 M1150,1400 C1165,1420 1165,1440 1150,1455"/>
<path d="M865,1375 L925,1418 M880,1372 L935,1410 M900,1378 L935,1402"/>
<path fill="#fff" d="M497,595 C400,650 305,760 303,880 C303,960 330,1030 400,1090 C500,1170 650,1250 790,1305 C900,1335 1000,1348 1100,1348 C1250,1348 1380,1338 1440,1322 L1445,1290 L1420,1265 L1490,1232 L1640,1275 L1650,1215 C1780,1150 1900,1020 1905,900 C1905,790 1820,690 1708,640 Z"/>
<path d="M310,960 C330,1020 360,1065 410,1105 C510,1185 660,1268 790,1322 C900,1352 1000,1366 1100,1366 C1250,1366 1380,1356 1445,1340 L1445,1290"/>
<path d="M335,1035 L775,1288 M395,1068 L790,1300"/>
<path d="M1650,1215 L1655,1255 C1780,1190 1890,1070 1900,950"/>
<path d="M1640,1275 L1655,1255"/>
<path fill="#fff" d="M497,480 L497,900 C500,960 540,1020 620,1075 C740,1160 920,1222 1100,1225 C1200,1226 1290,1215 1355,1195 L1355,790 L1100,480 Z"/>
<path fill="#fff" d="M1540,690 L1540,1110 L1565,1130 L1650,1215 L1640,1275 L1490,1232 L1490,1010 L1565,1090 C1640,1050 1700,980 1708,900 L1708,480 Z"/>
<path d="M1565,715 L1565,1090 M1540,690 L1565,715 L1708,600"/>
<path fill="#fff" d="M1355,790 L1355,1195 L1420,1265 L1445,1290 L1490,1232 L1490,1010 L1440,1075 L1365,1040 Z"/>
<path d="M1410,1065 L1410,1250 M1420,1265 L1440,1180 L1475,1205 L1425,1270" />
<path d="M1370,830 C1440,870 1480,930 1485,1000 L1440,1075 L1365,1040"/>
<path d="M1485,1000 C1520,960 1540,900 1540,860"/>
<ellipse fill="#fff" cx="1102" cy="480" rx="605" ry="348"/>
<clipPath id="cuphole36"><ellipse cx="1105" cy="490" rx="575" ry="330"/></clipPath>
<ellipse cx="1105" cy="490" rx="575" ry="330"/>
<g clip-path="url(#cuphole36)">
<ellipse cx="1105" cy="610" rx="560" ry="280"/>
<ellipse cx="1105" cy="735" rx="500" ry="245"/>
<ellipse cx="1105" cy="812" rx="190" ry="48"/>
<ellipse cx="1105" cy="822" rx="170" ry="42"/>
</g>
<path fill="#fff" stroke="none" d="M1358,760 L1537,660 L1537,900 L1358,900 Z"/>
<path d="M1355,790 L1340,778 L1300,790 M1540,690 L1540,860"/>
<path d="M1370,830 C1440,870 1480,930 1485,1000"/>
<path d="M1485,1000 C1520,960 1540,900 1540,860"/>
</g>
<g transform="translate(2109,2039) scale(0.125)" stroke-width="10.4"><path fill="#fff" d="M585,210 L585,700 C575,780 535,850 515,940 C505,1010 530,1080 600,1180 C670,1265 750,1310 815,1312 C900,1300 1000,1225 1060,1130 C1090,1060 1085,990 1060,910 C1035,830 1018,770 1015,700 L1010,480 L1060,400 L1090,350 L1085,285 L995,240 C1030,215 1020,180 1005,165 C960,110 880,80 800,80 C690,80 590,130 585,210 Z"/>
<path d="M585,210 C590,280 690,322 840,322"/>
<path d="M600,235 C625,290 710,335 835,338"/>
<path d="M840,322 L945,365 L1085,288 M945,365 L945,432 L1090,350 M920,372 L922,440 L945,432 M922,440 L865,520"/>
<path d="M960,372 L960,425"/>
<path d="M840,322 L840,520 L865,622 C885,580 930,530 1010,500"/>
<path d="M852,335 L852,525 M870,540 L940,445 L1062,385 M868,560 C900,520 950,480 1020,455"/>
<ellipse cx="800" cy="205" rx="122" ry="75"/>
<ellipse cx="800" cy="214" rx="106" ry="62"/>
<path d="M702,232 C730,268 870,268 900,232"/>
<path d="M590,705 L760,790 C830,850 860,920 885,1000 C915,1090 940,1170 925,1230 C915,1265 890,1290 860,1305"/>
<path d="M605,755 L740,820 C790,860 810,900 830,950"/>
<path d="M590,705 C595,760 560,820 540,880"/>
<g transform="translate(722,1075) rotate(66)">
<ellipse cx="0" cy="0" rx="208" ry="128"/>
<ellipse cx="2" cy="4" rx="188" ry="110"/>
<ellipse cx="6" cy="10" rx="165" ry="90"/>
</g>
<path d="M745,945 C790,1000 820,1060 830,1120"/>
<path d="M765,960 C800,1005 820,1050 828,1090"/>
</g>
<g transform="translate(2075.25,2065.35) scale(0.125)" stroke-width="10.4"><path fill="#fff" d="M1672,312 C1720,250 1790,215 1870,205 C1970,205 2062,300 2062,420 C2062,480 2035,520 1992,548 C1950,600 1880,632 1800,645 Z"/>
<path d="M1838,214 C1930,240 2010,330 2012,440 C2012,490 2000,520 1985,545"/>
<g transform="translate(1738,478) rotate(70)">
<ellipse fill="#fff" cx="0" cy="0" rx="178" ry="128"/>
<ellipse cx="4" cy="6" rx="160" ry="112"/>
<ellipse cx="6" cy="10" rx="146" ry="98"/>
</g>
</g>
</g>
<g id="leaders" stroke-width="1.9" stroke="#262626">
<line x1="448.5" y1="135" x2="571" y2="146.5"/><line x1="445" y1="221.5" x2="591" y2="264"/><line x1="790" y1="178.5" x2="895" y2="202"/><line x1="495" y1="427.5" x2="605" y2="427.5"/><line x1="495" y1="523" x2="658.5" y2="523"/><line x1="495" y1="616" x2="625" y2="611"/><line x1="490" y1="726" x2="646.5" y2="706.5"/><line x1="494" y1="886.5" x2="665" y2="941"/><line x1="474" y1="1374" x2="611" y2="1383"/><line x1="1010" y1="1319" x2="1127.5" y2="1313.5"/><line x1="472.5" y1="1569" x2="656" y2="1590.5"/><line x1="478" y1="1650.5" x2="651.5" y2="1660.5"/><line x1="477.5" y1="1720" x2="655" y2="1729.5"/><line x1="475" y1="1801.5" x2="643.5" y2="1788"/><line x1="478" y1="1888" x2="624" y2="1889.5"/><line x1="474.5" y1="2102.5" x2="652.5" y2="2102"/><line x1="790" y1="2134.5" x2="896.5" y2="2158"/><line x1="1000" y1="1634" x2="1131" y2="1630"/><line x1="1007.5" y1="2013.5" x2="1129" y2="2009.5"/><line x1="1982.5" y1="130.5" x2="2102.5" y2="140.5"/><line x1="1980" y1="217" x2="2124" y2="258.5"/><line x1="2324" y1="172.5" x2="2430" y2="195.5"/><line x1="2006" y1="424" x2="2134" y2="432"/><line x1="2013" y1="517" x2="2188" y2="524"/><line x1="2010" y1="619.5" x2="2152.5" y2="615.5"/><line x1="2012" y1="713.5" x2="2172.5" y2="701.5"/><line x1="2006" y1="886.5" x2="2195" y2="924"/><line x1="2017.5" y1="1376" x2="2145" y2="1392.5"/><line x1="2569" y1="1318.5" x2="2702.5" y2="1312"/><line x1="2010" y1="1567.5" x2="2185" y2="1594.5"/><line x1="2018" y1="1659" x2="2182.5" y2="1656.5"/><line x1="2018" y1="1731.5" x2="2185" y2="1729"/><line x1="2017" y1="1810" x2="2171.5" y2="1783"/><line x1="2018" y1="1895.5" x2="2152.5" y2="1897"/><line x1="2034" y1="2101" x2="2181.5" y2="2106.5"/><line x1="2325" y1="2134.5" x2="2430" y2="2157"/><line x1="2556" y1="1629.5" x2="2704" y2="1625"/><line x1="2565" y1="2002" x2="2702.5" y2="1999"/>
</g>
<g id="labels" opacity="0.999">
<text x="601.5" y="81.5">FRONT</text><text x="226.5" y="156.5">AR721205</text><text x="223.5" y="237.5">AR330337</text><text x="900" y="218.5">AR330483</text><text x="259" y="439">AR330208</text><text x="262" y="532.5">AR715008</text><text x="260" y="631.5">AR330339</text><text x="265.5" y="740">AR709051</text><text x="231" y="895">ARA330596</text><text x="215" y="1378.5">ARA330595</text><text x="1135" y="1317.5">AR330337</text><text x="245" y="1570.5">AR330245</text><text x="245" y="1656.5">AR330339</text><text x="245" y="1733">AR330245</text><text x="245" y="1811.5">AR330339</text><text x="245" y="1898">AR330337</text><text x="245" y="2111.5">AR330338</text><text x="904" y="2168">AR330483</text><text x="1135" y="1638">ARA330631</text><text x="1135" y="2020.5">AR330338</text><text x="2124" y="76">REAR</text><text x="1756" y="151.5">AR721205</text><text x="1752.5" y="233">AR330337</text><text x="2436" y="205">AR330483</text><text x="1761.5" y="433">AR330208</text><text x="1764" y="531.5">AR715008</text><text x="1767.5" y="625">AR330339</text><text x="1769" y="726.5">AR709051</text><text x="1738" y="896.5">ARA330598</text><text x="1748.5" y="1386">ARA330597</text><text x="2713" y="1327">AR330337</text><text x="1776" y="1578">AR330245</text><text x="1778.5" y="1664">AR330339</text><text x="1778.5" y="1739.5">AR330245</text><text x="1778.5" y="1818">AR330339</text><text x="1779" y="1905.5">AR330337</text><text x="1779" y="2118">AR330338</text><text x="2436.5" y="2167">AR330483</text><text x="2713" y="1635">ARA330599</text><text x="2714" y="2005">AR330338</text>
</g>
</svg>
</body></html>
